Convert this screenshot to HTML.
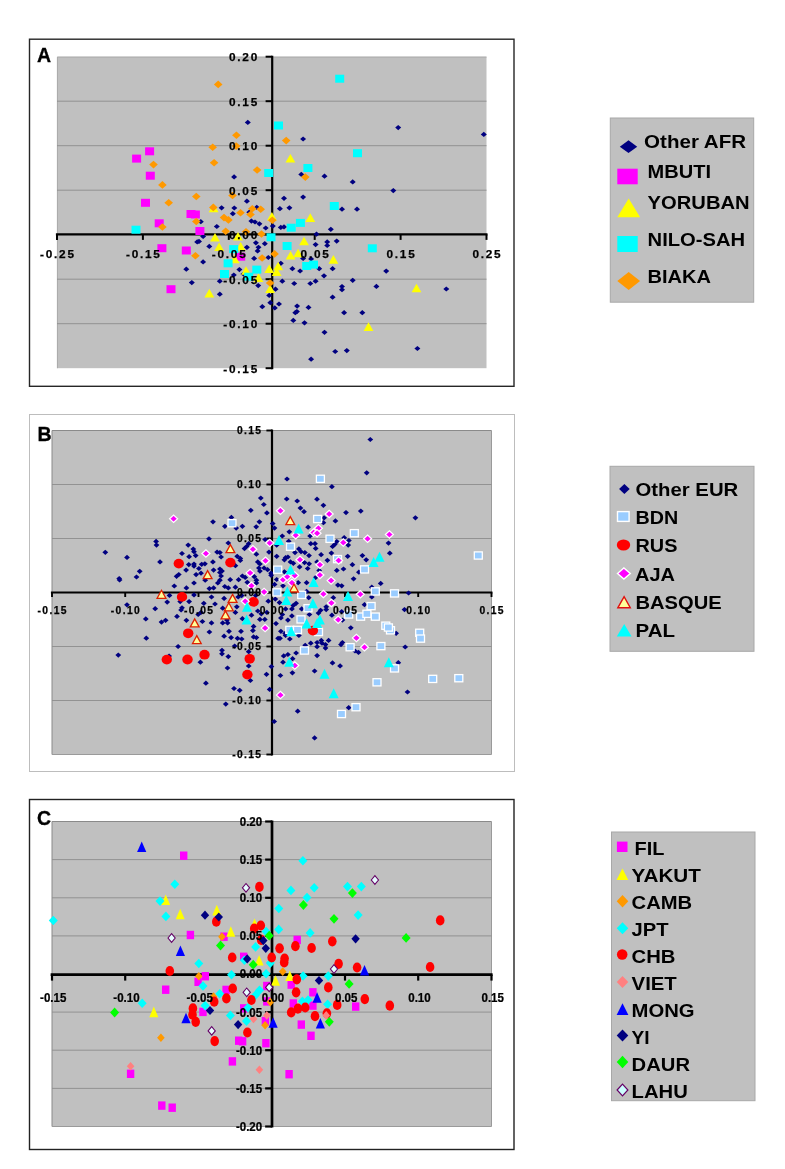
<!DOCTYPE html>
<html><head><meta charset="utf-8"><title>PCA scatter plots</title>
<style>html,body{margin:0;padding:0;background:#fff}svg{display:block;will-change:transform;transform:translateZ(0)}text{font-family:"Liberation Sans",sans-serif;font-weight:bold;fill:#000}</style></head>
<body>
<svg width="785" height="1169" viewBox="0 0 785 1169">
<rect width="785" height="1169" fill="#fff"/>
<rect x="29.5" y="39.2" width="484.5" height="347.1" fill="#fff" stroke="#262626" stroke-width="1.4"/>
<rect x="57" y="56.7" width="429.5" height="311.5" fill="#c0c0c0"/>
<path d="M57.4 368.2V57.1H486.5" fill="none" stroke="#a6a6a6" stroke-width="0.9"/>
<line x1="57" x2="486.5" y1="101.2" y2="101.2" stroke="#8c8c8c" stroke-width="0.9"/>
<line x1="57" x2="486.5" y1="145.7" y2="145.7" stroke="#8c8c8c" stroke-width="0.9"/>
<line x1="57" x2="486.5" y1="190.2" y2="190.2" stroke="#8c8c8c" stroke-width="0.9"/>
<line x1="57" x2="486.5" y1="279.2" y2="279.2" stroke="#8c8c8c" stroke-width="0.9"/>
<line x1="57" x2="486.5" y1="323.7" y2="323.7" stroke="#8c8c8c" stroke-width="0.9"/>
<line x1="55.9" x2="487.5" y1="234.4" y2="234.4" stroke="#000" stroke-width="2.2"/>
<line x1="272.2" x2="272.2" y1="55.7" y2="369.2" stroke="#000" stroke-width="2.2"/>
<line x1="57.0" x2="57.0" y1="234.4" y2="239.9" stroke="#000" stroke-width="2"/>
<line x1="142.9" x2="142.9" y1="234.4" y2="239.9" stroke="#000" stroke-width="2"/>
<line x1="228.8" x2="228.8" y1="234.4" y2="239.9" stroke="#000" stroke-width="2"/>
<line x1="314.7" x2="314.7" y1="234.4" y2="239.9" stroke="#000" stroke-width="2"/>
<line x1="400.6" x2="400.6" y1="234.4" y2="239.9" stroke="#000" stroke-width="2"/>
<line x1="486.5" x2="486.5" y1="234.4" y2="239.9" stroke="#000" stroke-width="2"/>
<line x1="265.59999999999997" x2="272.2" y1="56.7" y2="56.7" stroke="#000" stroke-width="2"/>
<line x1="265.59999999999997" x2="272.2" y1="101.2" y2="101.2" stroke="#000" stroke-width="2"/>
<line x1="265.59999999999997" x2="272.2" y1="145.7" y2="145.7" stroke="#000" stroke-width="2"/>
<line x1="265.59999999999997" x2="272.2" y1="190.2" y2="190.2" stroke="#000" stroke-width="2"/>
<line x1="265.59999999999997" x2="272.2" y1="234.7" y2="234.7" stroke="#000" stroke-width="2"/>
<line x1="265.59999999999997" x2="272.2" y1="279.2" y2="279.2" stroke="#000" stroke-width="2"/>
<line x1="265.59999999999997" x2="272.2" y1="323.7" y2="323.7" stroke="#000" stroke-width="2"/>
<line x1="265.59999999999997" x2="272.2" y1="368.2" y2="368.2" stroke="#000" stroke-width="2"/>
<path d="M231.1 176.9L234.1 174.3L237.1 176.9L234.1 179.5Z" fill="#000080"/>
<path d="M218.6 207.8L221.6 205.2L224.6 207.8L221.6 210.4Z" fill="#000080"/>
<path d="M231.3 208.0L234.3 205.4L237.3 208.0L234.3 210.6Z" fill="#000080"/>
<path d="M229.8 213.7L232.8 211.1L235.8 213.7L232.8 216.3Z" fill="#000080"/>
<path d="M197.8 221.7L200.8 219.1L203.8 221.7L200.8 224.3Z" fill="#000080"/>
<path d="M213.8 226.5L216.8 223.9L219.8 226.5L216.8 229.1Z" fill="#000080"/>
<path d="M200.1 236.4L203.1 233.8L206.1 236.4L203.1 239.0Z" fill="#000080"/>
<path d="M194.2 241.9L197.2 239.3L200.2 241.9L197.2 244.5Z" fill="#000080"/>
<path d="M196.0 241.4L199.0 238.8L202.0 241.4L199.0 244.0Z" fill="#000080"/>
<path d="M206.3 246.4L209.3 243.8L212.3 246.4L209.3 249.0Z" fill="#000080"/>
<path d="M200.1 261.9L203.1 259.3L206.1 261.9L203.1 264.5Z" fill="#000080"/>
<path d="M183.3 269.2L186.3 266.6L189.3 269.2L186.3 271.8Z" fill="#000080"/>
<path d="M188.8 282.6L191.8 280.0L194.8 282.6L191.8 285.2Z" fill="#000080"/>
<path d="M216.8 281.2L219.8 278.6L222.8 281.2L219.8 283.8Z" fill="#000080"/>
<path d="M216.8 294.2L219.8 291.6L222.8 294.2L219.8 296.8Z" fill="#000080"/>
<path d="M230.8 275.0L233.8 272.4L236.8 275.0L233.8 277.6Z" fill="#000080"/>
<path d="M236.4 269.6L239.4 267.0L242.4 269.6L239.4 272.2Z" fill="#000080"/>
<path d="M244.8 122.4L247.8 119.8L250.8 122.4L247.8 125.0Z" fill="#000080"/>
<path d="M300.1 139.0L303.1 136.4L306.1 139.0L303.1 141.6Z" fill="#000080"/>
<path d="M298.3 174.4L301.3 171.8L304.3 174.4L301.3 177.0Z" fill="#000080"/>
<path d="M321.5 176.2L324.5 173.6L327.5 176.2L324.5 178.8Z" fill="#000080"/>
<path d="M349.7 181.9L352.7 179.3L355.7 181.9L352.7 184.5Z" fill="#000080"/>
<path d="M300.1 197.1L303.1 194.5L306.1 197.1L303.1 199.7Z" fill="#000080"/>
<path d="M281.0 198.3L284.0 195.7L287.0 198.3L284.0 200.9Z" fill="#000080"/>
<path d="M243.9 201.2L246.9 198.6L249.9 201.2L246.9 203.8Z" fill="#000080"/>
<path d="M253.8 207.4L256.8 204.8L259.8 207.4L256.8 210.0Z" fill="#000080"/>
<path d="M276.9 208.7L279.9 206.1L282.9 208.7L279.9 211.3Z" fill="#000080"/>
<path d="M286.4 207.8L289.4 205.2L292.4 207.8L289.4 210.4Z" fill="#000080"/>
<path d="M339.0 209.2L342.0 206.6L345.0 209.2L342.0 211.8Z" fill="#000080"/>
<path d="M354.0 209.2L357.0 206.6L360.0 209.2L357.0 211.8Z" fill="#000080"/>
<path d="M246.3 212.2L249.3 209.6L252.3 212.2L249.3 214.8Z" fill="#000080"/>
<path d="M248.4 221.1L251.4 218.5L254.4 221.1L251.4 223.7Z" fill="#000080"/>
<path d="M252.0 222.0L255.0 219.4L258.0 222.0L255.0 224.6Z" fill="#000080"/>
<path d="M256.4 223.8L259.4 221.2L262.4 223.8L259.4 226.4Z" fill="#000080"/>
<path d="M262.7 228.0L265.7 225.4L268.7 228.0L265.7 230.6Z" fill="#000080"/>
<path d="M269.8 226.1L272.8 223.5L275.8 226.1L272.8 228.7Z" fill="#000080"/>
<path d="M277.8 227.4L280.8 224.8L283.8 227.4L280.8 230.0Z" fill="#000080"/>
<path d="M281.0 226.9L284.0 224.3L287.0 226.9L284.0 229.5Z" fill="#000080"/>
<path d="M327.8 229.3L330.8 226.7L333.8 229.3L330.8 231.9Z" fill="#000080"/>
<path d="M313.5 234.2L316.5 231.6L319.5 234.2L316.5 236.8Z" fill="#000080"/>
<path d="M324.2 241.9L327.2 239.3L330.2 241.9L327.2 244.5Z" fill="#000080"/>
<path d="M333.7 241.1L336.7 238.5L339.7 241.1L336.7 243.7Z" fill="#000080"/>
<path d="M312.6 244.6L315.6 242.0L318.6 244.6L315.6 247.2Z" fill="#000080"/>
<path d="M324.2 245.5L327.2 242.9L330.2 245.5L327.2 248.1Z" fill="#000080"/>
<path d="M252.9 242.8L255.9 240.2L258.9 242.8L255.9 245.4Z" fill="#000080"/>
<path d="M261.8 243.7L264.8 241.1L267.8 243.7L264.8 246.3Z" fill="#000080"/>
<path d="M243.9 247.3L246.9 244.7L249.9 247.3L246.9 249.9Z" fill="#000080"/>
<path d="M255.5 247.3L258.5 244.7L261.5 247.3L258.5 249.9Z" fill="#000080"/>
<path d="M254.6 250.9L257.6 248.3L260.6 250.9L257.6 253.5Z" fill="#000080"/>
<path d="M251.1 258.4L254.1 255.8L257.1 258.4L254.1 261.0Z" fill="#000080"/>
<path d="M265.3 257.5L268.3 254.9L271.3 257.5L268.3 260.1Z" fill="#000080"/>
<path d="M300.1 258.4L303.1 255.8L306.1 258.4L303.1 261.0Z" fill="#000080"/>
<path d="M308.1 258.9L311.1 256.3L314.1 258.9L311.1 261.5Z" fill="#000080"/>
<path d="M277.8 263.3L280.8 260.7L283.8 263.3L280.8 265.9Z" fill="#000080"/>
<path d="M289.4 268.7L292.4 266.1L295.4 268.7L292.4 271.3Z" fill="#000080"/>
<path d="M297.1 271.0L300.1 268.4L303.1 271.0L300.1 273.6Z" fill="#000080"/>
<path d="M316.2 268.7L319.2 266.1L322.2 268.7L319.2 271.3Z" fill="#000080"/>
<path d="M329.6 268.7L332.6 266.1L335.6 268.7L332.6 271.3Z" fill="#000080"/>
<path d="M321.0 275.8L324.0 273.2L327.0 275.8L324.0 278.4Z" fill="#000080"/>
<path d="M240.4 274.0L243.4 271.4L246.4 274.0L243.4 276.6Z" fill="#000080"/>
<path d="M279.3 281.2L282.3 278.6L285.3 281.2L282.3 283.8Z" fill="#000080"/>
<path d="M291.2 283.5L294.2 280.9L297.2 283.5L294.2 286.1Z" fill="#000080"/>
<path d="M307.3 283.5L310.3 280.9L313.3 283.5L310.3 286.1Z" fill="#000080"/>
<path d="M312.6 281.2L315.6 278.6L318.6 281.2L315.6 283.8Z" fill="#000080"/>
<path d="M349.7 280.3L352.7 277.7L355.7 280.3L352.7 282.9Z" fill="#000080"/>
<path d="M255.2 285.6L258.2 283.0L261.2 285.6L258.2 288.2Z" fill="#000080"/>
<path d="M272.5 289.2L275.5 286.6L278.5 289.2L275.5 291.8Z" fill="#000080"/>
<path d="M339.0 286.5L342.0 283.9L345.0 286.5L342.0 289.1Z" fill="#000080"/>
<path d="M339.0 289.7L342.0 287.1L345.0 289.7L342.0 292.3Z" fill="#000080"/>
<path d="M266.2 295.4L269.2 292.8L272.2 295.4L269.2 298.0Z" fill="#000080"/>
<path d="M267.3 302.7L270.3 300.1L273.3 302.7L270.3 305.3Z" fill="#000080"/>
<path d="M329.6 297.2L332.6 294.6L335.6 297.2L332.6 299.8Z" fill="#000080"/>
<path d="M276.0 304.0L279.0 301.4L282.0 304.0L279.0 306.6Z" fill="#000080"/>
<path d="M259.3 306.7L262.3 304.1L265.3 306.7L262.3 309.3Z" fill="#000080"/>
<path d="M271.8 307.9L274.8 305.3L277.8 307.9L274.8 310.5Z" fill="#000080"/>
<path d="M294.1 306.1L297.1 303.5L300.1 306.1L297.1 308.7Z" fill="#000080"/>
<path d="M305.5 307.4L308.5 304.8L311.5 307.4L308.5 310.0Z" fill="#000080"/>
<path d="M293.9 311.6L296.9 309.0L299.9 311.6L296.9 314.2Z" fill="#000080"/>
<path d="M292.3 312.7L295.3 310.1L298.3 312.7L295.3 315.3Z" fill="#000080"/>
<path d="M341.1 312.7L344.1 310.1L347.1 312.7L344.1 315.3Z" fill="#000080"/>
<path d="M359.3 312.7L362.3 310.1L365.3 312.7L362.3 315.3Z" fill="#000080"/>
<path d="M290.3 320.4L293.3 317.8L296.3 320.4L293.3 323.0Z" fill="#000080"/>
<path d="M301.5 322.8L304.5 320.2L307.5 322.8L304.5 325.4Z" fill="#000080"/>
<path d="M321.5 332.3L324.5 329.7L327.5 332.3L324.5 334.9Z" fill="#000080"/>
<path d="M332.2 351.5L335.2 348.9L338.2 351.5L335.2 354.1Z" fill="#000080"/>
<path d="M343.8 350.6L346.8 348.0L349.8 350.6L346.8 353.2Z" fill="#000080"/>
<path d="M308.1 359.2L311.1 356.6L314.1 359.2L311.1 361.8Z" fill="#000080"/>
<path d="M395.2 127.6L398.2 125.0L401.2 127.6L398.2 130.2Z" fill="#000080"/>
<path d="M480.8 134.4L483.8 131.8L486.8 134.4L483.8 137.0Z" fill="#000080"/>
<path d="M390.3 190.6L393.3 188.0L396.3 190.6L393.3 193.2Z" fill="#000080"/>
<path d="M383.2 271.1L386.2 268.5L389.2 271.1L386.2 273.7Z" fill="#000080"/>
<path d="M373.4 286.4L376.4 283.8L379.4 286.4L376.4 289.0Z" fill="#000080"/>
<path d="M443.3 289.0L446.3 286.4L449.3 289.0L446.3 291.6Z" fill="#000080"/>
<path d="M414.4 348.5L417.4 345.9L420.4 348.5L417.4 351.1Z" fill="#000080"/>
<rect x="145.1" y="147.3" width="9.0" height="8.0" fill="#ff00ff"/>
<rect x="132.1" y="154.6" width="9.0" height="8.0" fill="#ff00ff"/>
<rect x="145.8" y="171.7" width="9.0" height="8.0" fill="#ff00ff"/>
<rect x="141.0" y="198.8" width="9.0" height="8.0" fill="#ff00ff"/>
<rect x="186.5" y="210.0" width="9.0" height="8.0" fill="#ff00ff"/>
<rect x="190.9" y="210.5" width="9.0" height="8.0" fill="#ff00ff"/>
<rect x="154.7" y="219.3" width="9.0" height="8.0" fill="#ff00ff"/>
<rect x="195.4" y="227.0" width="9.0" height="8.0" fill="#ff00ff"/>
<rect x="157.4" y="244.2" width="9.0" height="8.0" fill="#ff00ff"/>
<rect x="181.8" y="246.5" width="9.0" height="8.0" fill="#ff00ff"/>
<rect x="166.5" y="285.2" width="9.0" height="8.0" fill="#ff00ff"/>
<rect x="236.2" y="252.7" width="9.0" height="8.0" fill="#ff00ff"/>
<path d="M208.7 212.2L213.6 203.6L218.5 212.2Z" fill="#ffff00"/>
<path d="M210.1 241.6L215.0 233.0L219.9 241.6Z" fill="#ffff00"/>
<path d="M214.2 251.1L219.1 242.5L224.0 251.1Z" fill="#ffff00"/>
<path d="M204.4 297.4L209.3 288.8L214.2 297.4Z" fill="#ffff00"/>
<path d="M229.8 263.2L234.7 254.6L239.6 263.2Z" fill="#ffff00"/>
<path d="M285.5 162.5L290.4 153.9L295.3 162.5Z" fill="#ffff00"/>
<path d="M305.4 221.9L310.3 213.3L315.2 221.9Z" fill="#ffff00"/>
<path d="M267.0 220.6L271.9 212.0L276.8 220.6Z" fill="#ffff00"/>
<path d="M233.1 240.6L238.0 232.0L242.9 240.6Z" fill="#ffff00"/>
<path d="M299.1 245.3L304.0 236.7L308.9 245.3Z" fill="#ffff00"/>
<path d="M285.7 259.6L290.6 251.0L295.5 259.6Z" fill="#ffff00"/>
<path d="M293.2 257.3L298.1 248.7L303.0 257.3Z" fill="#ffff00"/>
<path d="M328.5 263.7L333.4 255.1L338.3 263.7Z" fill="#ffff00"/>
<path d="M273.3 270.3L278.2 261.7L283.1 270.3Z" fill="#ffff00"/>
<path d="M264.3 273.0L269.2 264.4L274.1 273.0Z" fill="#ffff00"/>
<path d="M271.8 276.0L276.7 267.4L281.6 276.0Z" fill="#ffff00"/>
<path d="M241.1 274.8L246.0 266.2L250.9 274.8Z" fill="#ffff00"/>
<path d="M253.6 281.9L258.5 273.3L263.4 281.9Z" fill="#ffff00"/>
<path d="M265.2 293.0L270.1 284.4L275.0 293.0Z" fill="#ffff00"/>
<path d="M235.8 250.7L240.7 242.1L245.6 250.7Z" fill="#ffff00"/>
<path d="M363.6 330.9L368.5 322.3L373.4 330.9Z" fill="#ffff00"/>
<path d="M411.6 292.3L416.5 283.7L421.4 292.3Z" fill="#ffff00"/>
<rect x="131.5" y="225.7" width="9.0" height="8.0" fill="#00ffff"/>
<rect x="223.6" y="259.3" width="9.0" height="8.0" fill="#00ffff"/>
<rect x="220.0" y="270.0" width="9.0" height="8.0" fill="#00ffff"/>
<rect x="229.2" y="245.1" width="9.0" height="8.0" fill="#00ffff"/>
<rect x="335.2" y="74.7" width="9.0" height="8.0" fill="#00ffff"/>
<rect x="274.0" y="121.5" width="9.0" height="8.0" fill="#00ffff"/>
<rect x="353.0" y="149.2" width="9.0" height="8.0" fill="#00ffff"/>
<rect x="303.4" y="164.0" width="9.0" height="8.0" fill="#00ffff"/>
<rect x="264.2" y="169.0" width="9.0" height="8.0" fill="#00ffff"/>
<rect x="329.8" y="202.0" width="9.0" height="8.0" fill="#00ffff"/>
<rect x="295.9" y="218.9" width="9.0" height="8.0" fill="#00ffff"/>
<rect x="286.7" y="223.7" width="9.0" height="8.0" fill="#00ffff"/>
<rect x="266.5" y="233.3" width="9.0" height="8.0" fill="#00ffff"/>
<rect x="282.6" y="242.0" width="9.0" height="8.0" fill="#00ffff"/>
<rect x="302.2" y="262.0" width="9.0" height="8.0" fill="#00ffff"/>
<rect x="309.0" y="260.6" width="9.0" height="8.0" fill="#00ffff"/>
<rect x="252.3" y="265.6" width="9.0" height="8.0" fill="#00ffff"/>
<rect x="367.8" y="244.3" width="9.0" height="8.0" fill="#00ffff"/>
<rect x="244.2" y="272.7" width="9.0" height="8.0" fill="#00ffff"/>
<path d="M213.9 84.4L218.2 80.6L222.5 84.4L218.2 88.2Z" fill="#ff9900"/>
<path d="M232.1 135.3L236.4 131.5L240.7 135.3L236.4 139.1Z" fill="#ff9900"/>
<path d="M208.4 147.3L212.7 143.5L217.0 147.3L212.7 151.1Z" fill="#ff9900"/>
<path d="M149.2 164.6L153.5 160.8L157.8 164.6L153.5 168.4Z" fill="#ff9900"/>
<path d="M209.8 162.8L214.1 159.0L218.4 162.8L214.1 166.6Z" fill="#ff9900"/>
<path d="M158.1 184.9L162.4 181.1L166.7 184.9L162.4 188.7Z" fill="#ff9900"/>
<path d="M192.0 196.5L196.3 192.7L200.6 196.5L196.3 200.3Z" fill="#ff9900"/>
<path d="M164.4 202.8L168.7 199.0L173.0 202.8L168.7 206.6Z" fill="#ff9900"/>
<path d="M228.2 195.5L232.5 191.7L236.8 195.5L232.5 199.3Z" fill="#ff9900"/>
<path d="M209.0 207.4L213.3 203.6L217.6 207.4L213.3 211.2Z" fill="#ff9900"/>
<path d="M192.0 221.5L196.3 217.7L200.6 221.5L196.3 225.3Z" fill="#ff9900"/>
<path d="M158.1 227.0L162.4 223.2L166.7 227.0L162.4 230.8Z" fill="#ff9900"/>
<path d="M219.7 217.6L224.0 213.8L228.3 217.6L224.0 221.4Z" fill="#ff9900"/>
<path d="M224.1 219.9L228.4 216.1L232.7 219.9L228.4 223.7Z" fill="#ff9900"/>
<path d="M221.4 231.3L225.7 227.5L230.0 231.3L225.7 235.1Z" fill="#ff9900"/>
<path d="M236.2 212.7L240.5 208.9L244.8 212.7L240.5 216.5Z" fill="#ff9900"/>
<path d="M191.1 255.7L195.4 251.9L199.7 255.7L195.4 259.5Z" fill="#ff9900"/>
<path d="M281.9 140.6L286.2 136.8L290.5 140.6L286.2 144.4Z" fill="#ff9900"/>
<path d="M231.9 146.1L236.2 142.3L240.5 146.1L236.2 149.9Z" fill="#ff9900"/>
<path d="M252.8 170.0L257.1 166.2L261.4 170.0L257.1 173.8Z" fill="#ff9900"/>
<path d="M301.0 177.1L305.3 173.3L309.6 177.1L305.3 180.9Z" fill="#ff9900"/>
<path d="M248.0 208.7L252.3 204.9L256.6 208.7L252.3 212.5Z" fill="#ff9900"/>
<path d="M256.4 209.2L260.7 205.4L265.0 209.2L260.7 213.0Z" fill="#ff9900"/>
<path d="M246.2 214.5L250.5 210.7L254.8 214.5L250.5 218.3Z" fill="#ff9900"/>
<path d="M268.0 220.3L272.3 216.5L276.6 220.3L272.3 224.1Z" fill="#ff9900"/>
<path d="M257.2 234.0L261.5 230.2L265.8 234.0L261.5 237.8Z" fill="#ff9900"/>
<path d="M241.7 231.8L246.0 228.0L250.3 231.8L246.0 235.6Z" fill="#ff9900"/>
<path d="M270.3 253.9L274.6 250.1L278.9 253.9L274.6 257.7Z" fill="#ff9900"/>
<path d="M257.8 258.0L262.1 254.2L266.4 258.0L262.1 261.8Z" fill="#ff9900"/>
<path d="M265.8 283.0L270.1 279.2L274.4 283.0L270.1 286.8Z" fill="#ff9900"/>
<text transform="translate(40.05,257.80) scale(1.0,1)" font-size="11.8" letter-spacing="1.75" stroke="#000" stroke-width="0.25" font-family="Liberation Sans, sans-serif" font-weight="bold">-0.25</text>
<text transform="translate(125.95,257.80) scale(1.0,1)" font-size="11.8" letter-spacing="1.75" stroke="#000" stroke-width="0.25" font-family="Liberation Sans, sans-serif" font-weight="bold">-0.15</text>
<text transform="translate(211.85,257.80) scale(1.0,1)" font-size="11.8" letter-spacing="1.75" stroke="#000" stroke-width="0.25" font-family="Liberation Sans, sans-serif" font-weight="bold">-0.05</text>
<text transform="translate(300.59,257.80) scale(1.0,1)" font-size="11.8" letter-spacing="1.75" stroke="#000" stroke-width="0.25" font-family="Liberation Sans, sans-serif" font-weight="bold">0.05</text>
<text transform="translate(386.49,257.80) scale(1.0,1)" font-size="11.8" letter-spacing="1.75" stroke="#000" stroke-width="0.25" font-family="Liberation Sans, sans-serif" font-weight="bold">0.15</text>
<text transform="translate(472.39,257.80) scale(1.0,1)" font-size="11.8" letter-spacing="1.75" stroke="#000" stroke-width="0.25" font-family="Liberation Sans, sans-serif" font-weight="bold">0.25</text>
<text transform="translate(228.99,61.00) scale(1.0,1)" font-size="11.8" letter-spacing="1.75" stroke="#000" stroke-width="0.25" font-family="Liberation Sans, sans-serif" font-weight="bold">0.20</text>
<text transform="translate(228.99,105.50) scale(1.0,1)" font-size="11.8" letter-spacing="1.75" stroke="#000" stroke-width="0.25" font-family="Liberation Sans, sans-serif" font-weight="bold">0.15</text>
<text transform="translate(228.99,150.00) scale(1.0,1)" font-size="11.8" letter-spacing="1.75" stroke="#000" stroke-width="0.25" font-family="Liberation Sans, sans-serif" font-weight="bold">0.10</text>
<text transform="translate(228.99,194.50) scale(1.0,1)" font-size="11.8" letter-spacing="1.75" stroke="#000" stroke-width="0.25" font-family="Liberation Sans, sans-serif" font-weight="bold">0.05</text>
<text transform="translate(228.99,239.00) scale(1.0,1)" font-size="11.8" letter-spacing="1.75" stroke="#000" stroke-width="0.25" font-family="Liberation Sans, sans-serif" font-weight="bold">0.00</text>
<text transform="translate(223.31,283.50) scale(1.0,1)" font-size="11.8" letter-spacing="1.75" stroke="#000" stroke-width="0.25" font-family="Liberation Sans, sans-serif" font-weight="bold">-0.05</text>
<text transform="translate(223.31,328.00) scale(1.0,1)" font-size="11.8" letter-spacing="1.75" stroke="#000" stroke-width="0.25" font-family="Liberation Sans, sans-serif" font-weight="bold">-0.10</text>
<text transform="translate(223.31,372.50) scale(1.0,1)" font-size="11.8" letter-spacing="1.75" stroke="#000" stroke-width="0.25" font-family="Liberation Sans, sans-serif" font-weight="bold">-0.15</text>
<text x="37.0" y="61.6" font-size="19.5" text-anchor="start" font-family="Liberation Sans, sans-serif" font-weight="bold" stroke="#000" stroke-width="0.3">A</text>
<rect x="29.5" y="414.5" width="485.0" height="357.0" fill="#fff" stroke="#bdbdbd" stroke-width="1"/>
<rect x="52" y="430.5" width="439.5" height="324.0" fill="#c0c0c0"/>
<path d="M52 754.5V430.5H491.5" fill="none" stroke="#8a8a8a" stroke-width="1"/>
<path d="M52 754.5H491.5V430.5" fill="none" stroke="#9a9a9a" stroke-width="1"/>
<line x1="52" x2="491.5" y1="484.5" y2="484.5" stroke="#8c8c8c" stroke-width="0.9"/>
<line x1="52" x2="491.5" y1="538.5" y2="538.5" stroke="#8c8c8c" stroke-width="0.9"/>
<line x1="52" x2="491.5" y1="646.5" y2="646.5" stroke="#8c8c8c" stroke-width="0.9"/>
<line x1="52" x2="491.5" y1="700.5" y2="700.5" stroke="#8c8c8c" stroke-width="0.9"/>
<line x1="50.9" x2="492.45" y1="592.5" y2="592.5" stroke="#000" stroke-width="2.2"/>
<line x1="272" x2="272" y1="429.55" y2="755.45" stroke="#000" stroke-width="2.2"/>
<line x1="52.0" x2="52.0" y1="592.5" y2="597.0" stroke="#000" stroke-width="1.9"/>
<line x1="125.2" x2="125.2" y1="592.5" y2="597.0" stroke="#000" stroke-width="1.9"/>
<line x1="198.5" x2="198.5" y1="592.5" y2="597.0" stroke="#000" stroke-width="1.9"/>
<line x1="345.0" x2="345.0" y1="592.5" y2="597.0" stroke="#000" stroke-width="1.9"/>
<line x1="418.2" x2="418.2" y1="592.5" y2="597.0" stroke="#000" stroke-width="1.9"/>
<line x1="491.5" x2="491.5" y1="592.5" y2="597.0" stroke="#000" stroke-width="1.9"/>
<line x1="266.4" x2="272" y1="430.5" y2="430.5" stroke="#000" stroke-width="1.9"/>
<line x1="266.4" x2="272" y1="484.5" y2="484.5" stroke="#000" stroke-width="1.9"/>
<line x1="266.4" x2="272" y1="538.5" y2="538.5" stroke="#000" stroke-width="1.9"/>
<line x1="266.4" x2="272" y1="592.5" y2="592.5" stroke="#000" stroke-width="1.9"/>
<line x1="266.4" x2="272" y1="646.5" y2="646.5" stroke="#000" stroke-width="1.9"/>
<line x1="266.4" x2="272" y1="700.5" y2="700.5" stroke="#000" stroke-width="1.9"/>
<line x1="266.4" x2="272" y1="754.5" y2="754.5" stroke="#000" stroke-width="1.9"/>
<path d="M153.2 541.4L156.1 538.8L159.0 541.4L156.1 544.0Z" fill="#000080"/>
<path d="M153.6 545.1L156.5 542.5L159.4 545.1L156.5 547.7Z" fill="#000080"/>
<path d="M102.4 552.3L105.3 549.7L108.2 552.3L105.3 554.9Z" fill="#000080"/>
<path d="M124.1 557.4L127.0 554.8L129.9 557.4L127.0 560.0Z" fill="#000080"/>
<path d="M157.1 561.9L160.0 559.3L162.9 561.9L160.0 564.5Z" fill="#000080"/>
<path d="M179.1 553.5L182.0 550.9L184.9 553.5L182.0 556.1Z" fill="#000080"/>
<path d="M185.3 545.1L188.2 542.5L191.1 545.1L188.2 547.7Z" fill="#000080"/>
<path d="M186.2 556.7L189.1 554.1L192.0 556.7L189.1 559.3Z" fill="#000080"/>
<path d="M185.9 564.6L188.8 562.0L191.7 564.6L188.8 567.2Z" fill="#000080"/>
<path d="M183.2 570.1L186.1 567.5L189.0 570.1L186.1 572.7Z" fill="#000080"/>
<path d="M136.8 571.3L139.7 568.7L142.6 571.3L139.7 573.9Z" fill="#000080"/>
<path d="M133.6 577.0L136.5 574.4L139.4 577.0L136.5 579.6Z" fill="#000080"/>
<path d="M116.3 578.5L119.2 575.9L122.1 578.5L119.2 581.1Z" fill="#000080"/>
<path d="M116.7 580.0L119.6 577.4L122.5 580.0L119.6 582.6Z" fill="#000080"/>
<path d="M173.7 576.3L176.6 573.7L179.5 576.3L176.6 578.9Z" fill="#000080"/>
<path d="M175.9 574.5L178.8 571.9L181.7 574.5L178.8 577.1Z" fill="#000080"/>
<path d="M171.4 586.0L174.3 583.4L177.2 586.0L174.3 588.6Z" fill="#000080"/>
<path d="M183.5 587.9L186.4 585.3L189.3 587.9L186.4 590.5Z" fill="#000080"/>
<path d="M166.6 595.4L169.5 592.8L172.4 595.4L169.5 598.0Z" fill="#000080"/>
<path d="M124.1 604.8L127.0 602.2L129.9 604.8L127.0 607.4Z" fill="#000080"/>
<path d="M164.3 602.1L167.2 599.5L170.1 602.1L167.2 604.7Z" fill="#000080"/>
<path d="M152.3 608.7L155.2 606.1L158.1 608.7L155.2 611.3Z" fill="#000080"/>
<path d="M179.1 607.8L182.0 605.2L184.9 607.8L182.0 610.4Z" fill="#000080"/>
<path d="M178.2 610.0L181.1 607.4L184.0 610.0L181.1 612.6Z" fill="#000080"/>
<path d="M177.3 601.6L180.2 599.0L183.1 601.6L180.2 604.2Z" fill="#000080"/>
<path d="M186.2 601.6L189.1 599.0L192.0 601.6L189.1 604.2Z" fill="#000080"/>
<path d="M142.9 618.9L145.8 616.3L148.7 618.9L145.8 621.5Z" fill="#000080"/>
<path d="M174.1 616.4L177.0 613.8L179.9 616.4L177.0 619.0Z" fill="#000080"/>
<path d="M183.5 620.3L186.4 617.7L189.3 620.3L186.4 622.9Z" fill="#000080"/>
<path d="M158.6 622.1L161.5 619.5L164.4 622.1L161.5 624.7Z" fill="#000080"/>
<path d="M162.7 620.3L165.6 617.7L168.5 620.3L165.6 622.9Z" fill="#000080"/>
<path d="M143.4 638.2L146.3 635.6L149.2 638.2L146.3 640.8Z" fill="#000080"/>
<path d="M175.2 646.5L178.1 643.9L181.0 646.5L178.1 649.1Z" fill="#000080"/>
<path d="M115.4 655.1L118.3 652.5L121.2 655.1L118.3 657.7Z" fill="#000080"/>
<path d="M166.2 656.0L169.1 653.4L172.0 656.0L169.1 658.6Z" fill="#000080"/>
<path d="M284.1 479.0L287.0 476.4L289.9 479.0L287.0 481.6Z" fill="#000080"/>
<path d="M257.9 498.1L260.8 495.5L263.7 498.1L260.8 500.7Z" fill="#000080"/>
<path d="M260.9 504.5L263.8 501.9L266.7 504.5L263.8 507.1Z" fill="#000080"/>
<path d="M283.8 499.0L286.7 496.4L289.6 499.0L286.7 501.6Z" fill="#000080"/>
<path d="M294.3 501.0L297.2 498.4L300.1 501.0L297.2 503.6Z" fill="#000080"/>
<path d="M314.1 499.2L317.0 496.6L319.9 499.2L317.0 501.8Z" fill="#000080"/>
<path d="M247.9 510.3L250.8 507.7L253.7 510.3L250.8 512.9Z" fill="#000080"/>
<path d="M264.0 512.9L266.9 510.3L269.8 512.9L266.9 515.5Z" fill="#000080"/>
<path d="M297.5 508.1L300.4 505.5L303.3 508.1L300.4 510.7Z" fill="#000080"/>
<path d="M301.1 511.7L304.0 509.1L306.9 511.7L304.0 514.3Z" fill="#000080"/>
<path d="M228.5 517.4L231.4 514.8L234.3 517.4L231.4 520.0Z" fill="#000080"/>
<path d="M210.1 521.8L213.0 519.2L215.9 521.8L213.0 524.4Z" fill="#000080"/>
<path d="M256.5 521.8L259.4 519.2L262.3 521.8L259.4 524.4Z" fill="#000080"/>
<path d="M269.8 523.6L272.7 521.0L275.6 523.6L272.7 526.2Z" fill="#000080"/>
<path d="M222.0 526.3L224.9 523.7L227.8 526.3L224.9 528.9Z" fill="#000080"/>
<path d="M239.5 526.3L242.4 523.7L245.3 526.3L242.4 528.9Z" fill="#000080"/>
<path d="M253.3 526.8L256.2 524.2L259.1 526.8L256.2 529.4Z" fill="#000080"/>
<path d="M233.3 528.1L236.2 525.5L239.1 528.1L236.2 530.7Z" fill="#000080"/>
<path d="M305.2 527.2L308.1 524.6L311.0 527.2L308.1 529.8Z" fill="#000080"/>
<path d="M271.6 528.1L274.5 525.5L277.4 528.1L274.5 530.7Z" fill="#000080"/>
<path d="M286.4 531.8L289.3 529.2L292.2 531.8L289.3 534.4Z" fill="#000080"/>
<path d="M206.1 538.8L209.0 536.2L211.9 538.8L209.0 541.4Z" fill="#000080"/>
<path d="M279.4 536.0L282.3 533.4L285.2 536.0L282.3 538.6Z" fill="#000080"/>
<path d="M225.4 543.0L228.3 540.4L231.2 543.0L228.3 545.6Z" fill="#000080"/>
<path d="M190.4 549.1L193.3 546.5L196.2 549.1L193.3 551.7Z" fill="#000080"/>
<path d="M191.1 551.7L194.0 549.1L196.9 551.7L194.0 554.3Z" fill="#000080"/>
<path d="M192.8 555.6L195.7 553.0L198.6 555.6L195.7 558.2Z" fill="#000080"/>
<path d="M214.2 552.1L217.1 549.5L220.0 552.1L217.1 554.7Z" fill="#000080"/>
<path d="M217.0 552.6L219.9 550.0L222.8 552.6L219.9 555.2Z" fill="#000080"/>
<path d="M218.2 557.0L221.1 554.4L224.0 557.0L221.1 559.6Z" fill="#000080"/>
<path d="M234.3 556.3L237.2 553.7L240.1 556.3L237.2 558.9Z" fill="#000080"/>
<path d="M237.4 558.4L240.3 555.8L243.2 558.4L240.3 561.0Z" fill="#000080"/>
<path d="M237.4 560.5L240.3 557.9L243.2 560.5L240.3 563.1Z" fill="#000080"/>
<path d="M241.6 548.6L244.5 546.0L247.4 548.6L244.5 551.2Z" fill="#000080"/>
<path d="M243.7 546.5L246.6 543.9L249.5 546.5L246.6 549.1Z" fill="#000080"/>
<path d="M245.8 543.7L248.7 541.1L251.6 543.7L248.7 546.3Z" fill="#000080"/>
<path d="M253.5 554.2L256.4 551.6L259.3 554.2L256.4 556.8Z" fill="#000080"/>
<path d="M262.2 539.5L265.1 536.9L268.0 539.5L265.1 542.1Z" fill="#000080"/>
<path d="M266.1 552.1L269.0 549.5L271.9 552.1L269.0 554.7Z" fill="#000080"/>
<path d="M273.8 545.1L276.7 542.5L279.6 545.1L276.7 547.7Z" fill="#000080"/>
<path d="M273.8 556.3L276.7 553.7L279.6 556.3L276.7 558.9Z" fill="#000080"/>
<path d="M281.5 559.8L284.4 557.2L287.3 559.8L284.4 562.4Z" fill="#000080"/>
<path d="M285.0 557.0L287.9 554.4L290.8 557.0L287.9 559.6Z" fill="#000080"/>
<path d="M210.0 561.9L212.9 559.3L215.8 561.9L212.9 564.5Z" fill="#000080"/>
<path d="M191.1 564.0L194.0 561.4L196.9 564.0L194.0 566.6Z" fill="#000080"/>
<path d="M191.1 566.1L194.0 563.5L196.9 566.1L194.0 568.7Z" fill="#000080"/>
<path d="M198.8 564.3L201.7 561.7L204.6 564.3L201.7 566.9Z" fill="#000080"/>
<path d="M202.0 563.8L204.9 561.2L207.8 563.8L204.9 566.4Z" fill="#000080"/>
<path d="M196.0 568.5L198.9 565.9L201.8 568.5L198.9 571.1Z" fill="#000080"/>
<path d="M217.0 569.0L219.9 566.4L222.8 569.0L219.9 571.6Z" fill="#000080"/>
<path d="M219.1 571.1L222.0 568.5L224.9 571.1L222.0 573.7Z" fill="#000080"/>
<path d="M217.0 572.5L219.9 569.9L222.8 572.5L219.9 575.1Z" fill="#000080"/>
<path d="M210.7 570.1L213.6 567.5L216.5 570.1L213.6 572.7Z" fill="#000080"/>
<path d="M232.5 565.7L235.4 563.1L238.3 565.7L235.4 568.3Z" fill="#000080"/>
<path d="M254.9 561.9L257.8 559.3L260.7 561.9L257.8 564.5Z" fill="#000080"/>
<path d="M256.0 568.0L258.9 565.4L261.8 568.0L258.9 570.6Z" fill="#000080"/>
<path d="M257.0 571.1L259.9 568.5L262.8 571.1L259.9 573.7Z" fill="#000080"/>
<path d="M261.2 568.0L264.1 565.4L267.0 568.0L264.1 570.6Z" fill="#000080"/>
<path d="M264.7 569.7L267.6 567.1L270.5 569.7L267.6 572.3Z" fill="#000080"/>
<path d="M268.2 573.2L271.1 570.6L274.0 573.2L271.1 575.8Z" fill="#000080"/>
<path d="M281.5 571.8L284.4 569.2L287.3 571.8L284.4 574.4Z" fill="#000080"/>
<path d="M193.2 574.6L196.1 572.0L199.0 574.6L196.1 577.2Z" fill="#000080"/>
<path d="M198.1 573.2L201.0 570.6L203.9 573.2L201.0 575.8Z" fill="#000080"/>
<path d="M218.2 576.0L221.1 573.4L224.0 576.0L221.1 578.6Z" fill="#000080"/>
<path d="M202.3 580.2L205.2 577.6L208.1 580.2L205.2 582.8Z" fill="#000080"/>
<path d="M191.1 583.0L194.0 580.4L196.9 583.0L194.0 585.6Z" fill="#000080"/>
<path d="M217.0 580.2L219.9 577.6L222.8 580.2L219.9 582.8Z" fill="#000080"/>
<path d="M214.9 583.0L217.8 580.4L220.7 583.0L217.8 585.6Z" fill="#000080"/>
<path d="M227.3 579.7L230.2 577.1L233.1 579.7L230.2 582.3Z" fill="#000080"/>
<path d="M235.7 579.7L238.6 577.1L241.5 579.7L238.6 582.3Z" fill="#000080"/>
<path d="M239.5 576.0L242.4 573.4L245.3 576.0L242.4 578.6Z" fill="#000080"/>
<path d="M242.3 577.4L245.2 574.8L248.1 577.4L245.2 580.0Z" fill="#000080"/>
<path d="M251.4 576.7L254.3 574.1L257.2 576.7L254.3 579.3Z" fill="#000080"/>
<path d="M253.5 580.2L256.4 577.6L259.3 580.2L256.4 582.8Z" fill="#000080"/>
<path d="M253.5 583.0L256.4 580.4L259.3 583.0L256.4 585.6Z" fill="#000080"/>
<path d="M221.9 586.5L224.8 583.9L227.7 586.5L224.8 589.1Z" fill="#000080"/>
<path d="M225.4 587.9L228.3 585.3L231.2 587.9L228.3 590.5Z" fill="#000080"/>
<path d="M210.7 587.9L213.6 585.3L216.5 587.9L213.6 590.5Z" fill="#000080"/>
<path d="M206.5 588.6L209.4 586.0L212.3 588.6L209.4 591.2Z" fill="#000080"/>
<path d="M232.5 587.2L235.4 584.6L238.3 587.2L235.4 589.8Z" fill="#000080"/>
<path d="M244.4 582.3L247.3 579.7L250.2 582.3L247.3 584.9Z" fill="#000080"/>
<path d="M273.8 579.5L276.7 576.9L279.6 579.5L276.7 582.1Z" fill="#000080"/>
<path d="M271.7 584.4L274.6 581.8L277.5 584.4L274.6 587.0Z" fill="#000080"/>
<path d="M280.1 585.8L283.0 583.2L285.9 585.8L283.0 588.4Z" fill="#000080"/>
<path d="M268.2 575.3L271.1 572.7L274.0 575.3L271.1 577.9Z" fill="#000080"/>
<path d="M257.0 564.0L259.9 561.4L262.8 564.0L259.9 566.6Z" fill="#000080"/>
<path d="M321.2 517.8L324.1 515.2L327.0 517.8L324.1 520.4Z" fill="#000080"/>
<path d="M332.5 520.9L335.4 518.3L338.3 520.9L335.4 523.5Z" fill="#000080"/>
<path d="M320.5 522.7L323.4 520.1L326.3 522.7L323.4 525.3Z" fill="#000080"/>
<path d="M307.2 536.0L310.1 533.4L313.0 536.0L310.1 538.6Z" fill="#000080"/>
<path d="M285.8 541.3L288.7 538.7L291.6 541.3L288.7 543.9Z" fill="#000080"/>
<path d="M307.9 543.7L310.8 541.1L313.7 543.7L310.8 546.3Z" fill="#000080"/>
<path d="M312.1 543.7L315.0 541.1L317.9 543.7L315.0 546.3Z" fill="#000080"/>
<path d="M312.8 548.4L315.7 545.8L318.6 548.4L315.7 551.0Z" fill="#000080"/>
<path d="M341.3 537.7L344.2 535.1L347.1 537.7L344.2 540.3Z" fill="#000080"/>
<path d="M346.0 540.5L348.9 537.9L351.8 540.5L348.9 543.1Z" fill="#000080"/>
<path d="M333.9 541.6L336.8 539.0L339.7 541.6L336.8 544.2Z" fill="#000080"/>
<path d="M331.8 544.4L334.7 541.8L337.6 544.4L334.7 547.0Z" fill="#000080"/>
<path d="M329.7 546.5L332.6 543.9L335.5 546.5L332.6 549.1Z" fill="#000080"/>
<path d="M345.3 545.1L348.2 542.5L351.1 545.1L348.2 547.7Z" fill="#000080"/>
<path d="M385.6 543.1L388.5 540.5L391.4 543.1L388.5 545.7Z" fill="#000080"/>
<path d="M386.9 553.2L389.8 550.6L392.7 553.2L389.8 555.8Z" fill="#000080"/>
<path d="M296.0 548.9L298.9 546.3L301.8 548.9L298.9 551.5Z" fill="#000080"/>
<path d="M298.1 551.7L301.0 549.1L303.9 551.7L301.0 554.3Z" fill="#000080"/>
<path d="M302.0 552.6L304.9 550.0L307.8 552.6L304.9 555.2Z" fill="#000080"/>
<path d="M292.1 552.6L295.0 550.0L297.9 552.6L295.0 555.2Z" fill="#000080"/>
<path d="M306.1 555.6L309.0 553.0L311.9 555.6L309.0 558.2Z" fill="#000080"/>
<path d="M318.2 554.7L321.1 552.1L324.0 554.7L321.1 557.3Z" fill="#000080"/>
<path d="M328.5 553.1L331.4 550.5L334.3 553.1L331.4 555.7Z" fill="#000080"/>
<path d="M344.8 556.3L347.7 553.7L350.6 556.3L347.7 558.9Z" fill="#000080"/>
<path d="M359.5 555.6L362.4 553.0L365.3 555.6L362.4 558.2Z" fill="#000080"/>
<path d="M363.3 559.8L366.2 557.2L369.1 559.8L366.2 562.4Z" fill="#000080"/>
<path d="M324.5 560.3L327.4 557.7L330.3 560.3L327.4 562.9Z" fill="#000080"/>
<path d="M282.7 557.7L285.6 555.1L288.5 557.7L285.6 560.3Z" fill="#000080"/>
<path d="M287.6 561.9L290.5 559.3L293.4 561.9L290.5 564.5Z" fill="#000080"/>
<path d="M290.4 563.3L293.3 560.7L296.2 563.3L293.3 565.9Z" fill="#000080"/>
<path d="M301.6 562.6L304.5 560.0L307.4 562.6L304.5 565.2Z" fill="#000080"/>
<path d="M306.2 563.8L309.1 561.2L312.0 563.8L309.1 566.4Z" fill="#000080"/>
<path d="M314.2 561.9L317.1 559.3L320.0 561.9L317.1 564.5Z" fill="#000080"/>
<path d="M296.7 566.9L299.6 564.3L302.5 566.9L299.6 569.5Z" fill="#000080"/>
<path d="M304.8 568.5L307.7 565.9L310.6 568.5L307.7 571.1Z" fill="#000080"/>
<path d="M349.5 564.7L352.4 562.1L355.3 564.7L352.4 567.3Z" fill="#000080"/>
<path d="M333.9 570.4L336.8 567.8L339.7 570.4L336.8 573.0Z" fill="#000080"/>
<path d="M340.6 569.0L343.5 566.4L346.4 569.0L343.5 571.6Z" fill="#000080"/>
<path d="M356.0 572.2L358.9 569.6L361.8 572.2L358.9 574.8Z" fill="#000080"/>
<path d="M350.7 578.8L353.6 576.2L356.5 578.8L353.6 581.4Z" fill="#000080"/>
<path d="M312.8 577.4L315.7 574.8L318.6 577.4L315.7 580.0Z" fill="#000080"/>
<path d="M295.3 582.7L298.2 580.1L301.1 582.7L298.2 585.3Z" fill="#000080"/>
<path d="M303.7 582.7L306.6 580.1L309.5 582.7L306.6 585.3Z" fill="#000080"/>
<path d="M335.0 585.1L337.9 582.5L340.8 585.1L337.9 587.7Z" fill="#000080"/>
<path d="M338.8 585.8L341.7 583.2L344.6 585.8L341.7 588.4Z" fill="#000080"/>
<path d="M377.8 583.4L380.7 580.8L383.6 583.4L380.7 586.0Z" fill="#000080"/>
<path d="M368.9 587.2L371.8 584.6L374.7 587.2L371.8 589.8Z" fill="#000080"/>
<path d="M303.7 591.4L306.6 588.8L309.5 591.4L306.6 594.0Z" fill="#000080"/>
<path d="M316.3 570.4L319.2 567.8L322.1 570.4L319.2 573.0Z" fill="#000080"/>
<path d="M412.5 517.8L415.4 515.2L418.3 517.8L415.4 520.4Z" fill="#000080"/>
<path d="M405.7 593.0L408.6 590.4L411.5 593.0L408.6 595.6Z" fill="#000080"/>
<path d="M367.4 439.5L370.3 436.9L373.2 439.5L370.3 442.1Z" fill="#000080"/>
<path d="M363.8 472.8L366.7 470.2L369.6 472.8L366.7 475.4Z" fill="#000080"/>
<path d="M329.0 486.7L331.9 484.1L334.8 486.7L331.9 489.3Z" fill="#000080"/>
<path d="M320.5 505.3L323.4 502.7L326.3 505.3L323.4 507.9Z" fill="#000080"/>
<path d="M343.1 512.6L346.0 510.0L348.9 512.6L346.0 515.2Z" fill="#000080"/>
<path d="M357.9 511.1L360.8 508.5L363.7 511.1L360.8 513.7Z" fill="#000080"/>
<path d="M191.1 594.9L194.0 592.3L196.9 594.9L194.0 597.5Z" fill="#000080"/>
<path d="M200.9 603.3L203.8 600.7L206.7 603.3L203.8 605.9Z" fill="#000080"/>
<path d="M208.6 597.0L211.5 594.4L214.4 597.0L211.5 599.6Z" fill="#000080"/>
<path d="M212.1 604.0L215.0 601.4L217.9 604.0L215.0 606.6Z" fill="#000080"/>
<path d="M221.2 598.4L224.1 595.8L227.0 598.4L224.1 601.0Z" fill="#000080"/>
<path d="M219.8 608.2L222.7 605.6L225.6 608.2L222.7 610.8Z" fill="#000080"/>
<path d="M235.3 597.0L238.2 594.4L241.1 597.0L238.2 599.6Z" fill="#000080"/>
<path d="M238.8 595.6L241.7 593.0L244.6 595.6L241.7 598.2Z" fill="#000080"/>
<path d="M233.9 606.8L236.8 604.2L239.7 606.8L236.8 609.4Z" fill="#000080"/>
<path d="M232.5 612.4L235.4 609.8L238.3 612.4L235.4 615.0Z" fill="#000080"/>
<path d="M252.8 595.6L255.7 593.0L258.6 595.6L255.7 598.2Z" fill="#000080"/>
<path d="M265.4 601.2L268.3 598.6L271.2 601.2L268.3 603.8Z" fill="#000080"/>
<path d="M254.9 611.0L257.8 608.4L260.7 611.0L257.8 613.6Z" fill="#000080"/>
<path d="M258.4 613.8L261.3 611.2L264.2 613.8L261.3 616.4Z" fill="#000080"/>
<path d="M264.0 612.4L266.9 609.8L269.8 612.4L266.9 615.0Z" fill="#000080"/>
<path d="M195.3 614.5L198.2 611.9L201.1 614.5L198.2 617.1Z" fill="#000080"/>
<path d="M198.1 612.4L201.0 609.8L203.9 612.4L201.0 615.0Z" fill="#000080"/>
<path d="M199.5 621.5L202.4 618.9L205.3 621.5L202.4 624.1Z" fill="#000080"/>
<path d="M208.6 622.9L211.5 620.3L214.4 622.9L211.5 625.5Z" fill="#000080"/>
<path d="M219.8 622.9L222.7 620.3L225.6 622.9L222.7 625.5Z" fill="#000080"/>
<path d="M224.7 622.9L227.6 620.3L230.5 622.9L227.6 625.5Z" fill="#000080"/>
<path d="M224.0 620.1L226.9 617.5L229.8 620.1L226.9 622.7Z" fill="#000080"/>
<path d="M239.5 618.7L242.4 616.1L245.3 618.7L242.4 621.3Z" fill="#000080"/>
<path d="M248.6 615.2L251.5 612.6L254.4 615.2L251.5 617.8Z" fill="#000080"/>
<path d="M257.0 619.4L259.9 616.8L262.8 619.4L259.9 622.0Z" fill="#000080"/>
<path d="M261.9 619.4L264.8 616.8L267.7 619.4L264.8 622.0Z" fill="#000080"/>
<path d="M250.7 626.4L253.6 623.8L256.5 626.4L253.6 629.0Z" fill="#000080"/>
<path d="M226.1 631.3L229.0 628.7L231.9 631.3L229.0 633.9Z" fill="#000080"/>
<path d="M238.1 631.3L241.0 628.7L243.9 631.3L241.0 633.9Z" fill="#000080"/>
<path d="M206.5 632.0L209.4 629.4L212.3 632.0L209.4 634.6Z" fill="#000080"/>
<path d="M221.2 636.2L224.1 633.6L227.0 636.2L224.1 638.8Z" fill="#000080"/>
<path d="M228.2 637.6L231.1 635.0L234.0 637.6L231.1 640.2Z" fill="#000080"/>
<path d="M234.6 638.3L237.5 635.7L240.4 638.3L237.5 640.9Z" fill="#000080"/>
<path d="M238.8 639.0L241.7 636.4L244.6 639.0L241.7 641.6Z" fill="#000080"/>
<path d="M250.0 630.6L252.9 628.0L255.8 630.6L252.9 633.2Z" fill="#000080"/>
<path d="M250.7 636.9L253.6 634.3L256.5 636.9L253.6 639.5Z" fill="#000080"/>
<path d="M253.5 637.6L256.4 635.0L259.3 637.6L256.4 640.2Z" fill="#000080"/>
<path d="M273.1 623.6L276.0 621.0L278.9 623.6L276.0 626.2Z" fill="#000080"/>
<path d="M278.0 618.0L280.9 615.4L283.8 618.0L280.9 620.6Z" fill="#000080"/>
<path d="M278.0 631.3L280.9 628.7L283.8 631.3L280.9 633.9Z" fill="#000080"/>
<path d="M275.2 638.3L278.1 635.7L281.0 638.3L278.1 640.9Z" fill="#000080"/>
<path d="M282.2 633.4L285.1 630.8L288.0 633.4L285.1 636.0Z" fill="#000080"/>
<path d="M285.0 620.1L287.9 617.5L290.8 620.1L287.9 622.7Z" fill="#000080"/>
<path d="M276.6 602.6L279.5 600.0L282.4 602.6L279.5 605.2Z" fill="#000080"/>
<path d="M272.4 599.1L275.3 596.5L278.2 599.1L275.3 601.7Z" fill="#000080"/>
<path d="M279.4 614.5L282.3 611.9L285.2 614.5L282.3 617.1Z" fill="#000080"/>
<path d="M219.1 650.3L222.0 647.7L224.9 650.3L222.0 652.9Z" fill="#000080"/>
<path d="M219.1 653.8L222.0 651.2L224.9 653.8L222.0 656.4Z" fill="#000080"/>
<path d="M225.4 656.6L228.3 654.0L231.2 656.6L228.3 659.2Z" fill="#000080"/>
<path d="M231.8 646.1L234.7 643.5L237.6 646.1L234.7 648.7Z" fill="#000080"/>
<path d="M197.5 662.2L200.4 659.6L203.3 662.2L200.4 664.8Z" fill="#000080"/>
<path d="M245.8 651.7L248.7 649.1L251.6 651.7L248.7 654.3Z" fill="#000080"/>
<path d="M224.6 668.0L227.5 665.4L230.4 668.0L227.5 670.6Z" fill="#000080"/>
<path d="M245.8 666.0L248.7 663.4L251.6 666.0L248.7 668.6Z" fill="#000080"/>
<path d="M280.8 655.9L283.7 653.3L286.6 655.9L283.7 658.5Z" fill="#000080"/>
<path d="M280.1 662.2L283.0 659.6L285.9 662.2L283.0 664.8Z" fill="#000080"/>
<path d="M268.5 666.6L271.4 664.0L274.3 666.6L271.4 669.2Z" fill="#000080"/>
<path d="M285.0 654.5L287.9 651.9L290.8 654.5L287.9 657.1Z" fill="#000080"/>
<path d="M305.8 597.7L308.7 595.1L311.6 597.7L308.7 600.3Z" fill="#000080"/>
<path d="M330.4 597.7L333.3 595.1L336.2 597.7L333.3 600.3Z" fill="#000080"/>
<path d="M368.9 597.0L371.8 594.4L374.7 597.0L371.8 599.6Z" fill="#000080"/>
<path d="M293.2 603.3L296.1 600.7L299.0 603.3L296.1 605.9Z" fill="#000080"/>
<path d="M290.4 605.4L293.3 602.8L296.2 605.4L293.3 608.0Z" fill="#000080"/>
<path d="M361.6 604.7L364.5 602.1L367.4 604.7L364.5 607.3Z" fill="#000080"/>
<path d="M282.7 608.9L285.6 606.3L288.5 608.9L285.6 611.5Z" fill="#000080"/>
<path d="M289.0 608.9L291.9 606.3L294.8 608.9L291.9 611.5Z" fill="#000080"/>
<path d="M298.8 608.9L301.7 606.3L304.6 608.9L301.7 611.5Z" fill="#000080"/>
<path d="M323.3 606.8L326.2 604.2L329.1 606.8L326.2 609.4Z" fill="#000080"/>
<path d="M317.7 610.3L320.6 607.7L323.5 610.3L320.6 612.9Z" fill="#000080"/>
<path d="M323.3 609.6L326.2 607.0L329.1 609.6L326.2 612.2Z" fill="#000080"/>
<path d="M306.5 614.5L309.4 611.9L312.3 614.5L309.4 617.1Z" fill="#000080"/>
<path d="M315.6 613.1L318.5 610.5L321.4 613.1L318.5 615.7Z" fill="#000080"/>
<path d="M289.0 615.9L291.9 613.3L294.8 615.9L291.9 618.5Z" fill="#000080"/>
<path d="M329.0 615.2L331.9 612.6L334.8 615.2L331.9 617.8Z" fill="#000080"/>
<path d="M338.8 611.7L341.7 609.1L344.6 611.7L341.7 614.3Z" fill="#000080"/>
<path d="M339.5 620.1L342.4 617.5L345.3 620.1L342.4 622.7Z" fill="#000080"/>
<path d="M347.9 627.8L350.8 625.2L353.7 627.8L350.8 630.4Z" fill="#000080"/>
<path d="M282.7 635.5L285.6 632.9L288.5 635.5L285.6 638.1Z" fill="#000080"/>
<path d="M296.0 635.5L298.9 632.9L301.8 635.5L298.9 638.1Z" fill="#000080"/>
<path d="M286.9 639.0L289.8 636.4L292.7 639.0L289.8 641.6Z" fill="#000080"/>
<path d="M277.1 638.3L280.0 635.7L282.9 638.3L280.0 640.9Z" fill="#000080"/>
<path d="M307.9 643.2L310.8 640.6L313.7 643.2L310.8 645.8Z" fill="#000080"/>
<path d="M302.3 645.3L305.2 642.7L308.1 645.3L305.2 647.9Z" fill="#000080"/>
<path d="M314.2 642.5L317.1 639.9L320.0 642.5L317.1 645.1Z" fill="#000080"/>
<path d="M314.2 646.7L317.1 644.1L320.0 646.7L317.1 649.3Z" fill="#000080"/>
<path d="M318.4 640.4L321.3 637.8L324.2 640.4L321.3 643.0Z" fill="#000080"/>
<path d="M319.1 643.2L322.0 640.6L324.9 643.2L322.0 645.8Z" fill="#000080"/>
<path d="M322.6 644.6L325.5 642.0L328.4 644.6L325.5 647.2Z" fill="#000080"/>
<path d="M322.6 648.1L325.5 645.5L328.4 648.1L325.5 650.7Z" fill="#000080"/>
<path d="M325.7 640.4L328.6 637.8L331.5 640.4L328.6 643.0Z" fill="#000080"/>
<path d="M339.5 642.5L342.4 639.9L345.3 642.5L342.4 645.1Z" fill="#000080"/>
<path d="M338.1 644.6L341.0 642.0L343.9 644.6L341.0 647.2Z" fill="#000080"/>
<path d="M355.6 652.4L358.5 649.8L361.4 652.4L358.5 655.0Z" fill="#000080"/>
<path d="M352.1 651.0L355.0 648.4L357.9 651.0L355.0 653.6Z" fill="#000080"/>
<path d="M293.2 653.0L296.1 650.4L299.0 653.0L296.1 655.6Z" fill="#000080"/>
<path d="M314.2 655.6L317.1 653.0L320.0 655.6L317.1 658.2Z" fill="#000080"/>
<path d="M289.7 658.7L292.6 656.1L295.5 658.7L292.6 661.3Z" fill="#000080"/>
<path d="M329.6 662.9L332.5 660.3L335.4 662.9L332.5 665.5Z" fill="#000080"/>
<path d="M337.2 665.9L340.1 663.3L343.0 665.9L340.1 668.5Z" fill="#000080"/>
<path d="M401.6 609.6L404.5 607.0L407.4 609.6L404.5 612.2Z" fill="#000080"/>
<path d="M393.2 633.3L396.1 630.7L399.0 633.3L396.1 635.9Z" fill="#000080"/>
<path d="M402.3 647.0L405.2 644.4L408.1 647.0L405.2 649.6Z" fill="#000080"/>
<path d="M395.4 662.7L398.3 660.1L401.2 662.7L398.3 665.3Z" fill="#000080"/>
<path d="M263.6 674.3L266.5 671.7L269.4 674.3L266.5 676.9Z" fill="#000080"/>
<path d="M277.5 675.5L280.4 672.9L283.3 675.5L280.4 678.1Z" fill="#000080"/>
<path d="M289.5 672.8L292.4 670.2L295.3 672.8L292.4 675.4Z" fill="#000080"/>
<path d="M311.7 671.0L314.6 668.4L317.5 671.0L314.6 673.6Z" fill="#000080"/>
<path d="M203.0 683.2L205.9 680.6L208.8 683.2L205.9 685.8Z" fill="#000080"/>
<path d="M247.5 680.5L250.4 677.9L253.3 680.5L250.4 683.1Z" fill="#000080"/>
<path d="M231.1 688.5L234.0 685.9L236.9 688.5L234.0 691.1Z" fill="#000080"/>
<path d="M236.8 690.3L239.7 687.7L242.6 690.3L239.7 692.9Z" fill="#000080"/>
<path d="M266.8 689.4L269.7 686.8L272.6 689.4L269.7 692.0Z" fill="#000080"/>
<path d="M222.9 704.1L225.8 701.5L228.7 704.1L225.8 706.7Z" fill="#000080"/>
<path d="M294.8 711.2L297.7 708.6L300.6 711.2L297.7 713.8Z" fill="#000080"/>
<path d="M271.3 721.5L274.2 718.9L277.1 721.5L274.2 724.1Z" fill="#000080"/>
<path d="M311.7 737.9L314.6 735.3L317.5 737.9L314.6 740.5Z" fill="#000080"/>
<path d="M404.6 692.0L407.5 689.4L410.4 692.0L407.5 694.6Z" fill="#000080"/>
<path d="M345.8 707.7L348.7 705.1L351.6 707.7L348.7 710.3Z" fill="#000080"/>
<rect x="228.0" y="519.6" width="8.0" height="7.2" fill="#99ccff" stroke="#fff" stroke-width="1.3"/>
<rect x="316.4" y="475.2" width="8.0" height="7.2" fill="#99ccff" stroke="#fff" stroke-width="1.3"/>
<rect x="313.6" y="515.4" width="8.0" height="7.2" fill="#99ccff" stroke="#fff" stroke-width="1.3"/>
<rect x="273.7" y="566.1" width="8.0" height="7.2" fill="#99ccff" stroke="#fff" stroke-width="1.3"/>
<rect x="272.9" y="588.8" width="8.0" height="7.2" fill="#99ccff" stroke="#fff" stroke-width="1.3"/>
<rect x="286.5" y="543.1" width="8.0" height="7.2" fill="#99ccff" stroke="#fff" stroke-width="1.3"/>
<rect x="350.3" y="529.6" width="8.0" height="7.2" fill="#99ccff" stroke="#fff" stroke-width="1.3"/>
<rect x="326.0" y="535.2" width="8.0" height="7.2" fill="#99ccff" stroke="#fff" stroke-width="1.3"/>
<rect x="333.5" y="555.5" width="8.0" height="7.2" fill="#99ccff" stroke="#fff" stroke-width="1.3"/>
<rect x="360.5" y="565.8" width="8.0" height="7.2" fill="#99ccff" stroke="#fff" stroke-width="1.3"/>
<rect x="371.3" y="587.8" width="8.0" height="7.2" fill="#99ccff" stroke="#fff" stroke-width="1.3"/>
<rect x="297.7" y="591.3" width="8.0" height="7.2" fill="#99ccff" stroke="#fff" stroke-width="1.3"/>
<rect x="474.3" y="551.9" width="8.0" height="7.2" fill="#99ccff" stroke="#fff" stroke-width="1.3"/>
<rect x="390.5" y="589.8" width="8.0" height="7.2" fill="#99ccff" stroke="#fff" stroke-width="1.3"/>
<rect x="304.0" y="604.6" width="8.0" height="7.2" fill="#99ccff" stroke="#fff" stroke-width="1.3"/>
<rect x="297.0" y="615.8" width="8.0" height="7.2" fill="#99ccff" stroke="#fff" stroke-width="1.3"/>
<rect x="285.8" y="626.3" width="8.0" height="7.2" fill="#99ccff" stroke="#fff" stroke-width="1.3"/>
<rect x="293.5" y="626.3" width="8.0" height="7.2" fill="#99ccff" stroke="#fff" stroke-width="1.3"/>
<rect x="314.5" y="628.4" width="8.0" height="7.2" fill="#99ccff" stroke="#fff" stroke-width="1.3"/>
<rect x="300.5" y="646.9" width="8.0" height="7.2" fill="#99ccff" stroke="#fff" stroke-width="1.3"/>
<rect x="346.1" y="643.6" width="8.0" height="7.2" fill="#99ccff" stroke="#fff" stroke-width="1.3"/>
<rect x="376.9" y="642.5" width="8.0" height="7.2" fill="#99ccff" stroke="#fff" stroke-width="1.3"/>
<rect x="344.7" y="610.9" width="8.0" height="7.2" fill="#99ccff" stroke="#fff" stroke-width="1.3"/>
<rect x="356.6" y="613.0" width="8.0" height="7.2" fill="#99ccff" stroke="#fff" stroke-width="1.3"/>
<rect x="362.9" y="610.2" width="8.0" height="7.2" fill="#99ccff" stroke="#fff" stroke-width="1.3"/>
<rect x="371.3" y="613.0" width="8.0" height="7.2" fill="#99ccff" stroke="#fff" stroke-width="1.3"/>
<rect x="367.1" y="602.5" width="8.0" height="7.2" fill="#99ccff" stroke="#fff" stroke-width="1.3"/>
<rect x="381.8" y="622.1" width="8.0" height="7.2" fill="#99ccff" stroke="#fff" stroke-width="1.3"/>
<rect x="386.5" y="626.7" width="8.0" height="7.2" fill="#99ccff" stroke="#fff" stroke-width="1.3"/>
<rect x="384.4" y="623.9" width="8.0" height="7.2" fill="#99ccff" stroke="#fff" stroke-width="1.3"/>
<rect x="415.7" y="629.2" width="8.0" height="7.2" fill="#99ccff" stroke="#fff" stroke-width="1.3"/>
<rect x="416.5" y="635.0" width="8.0" height="7.2" fill="#99ccff" stroke="#fff" stroke-width="1.3"/>
<rect x="390.5" y="664.8" width="8.0" height="7.2" fill="#99ccff" stroke="#fff" stroke-width="1.3"/>
<rect x="373.0" y="678.7" width="8.0" height="7.2" fill="#99ccff" stroke="#fff" stroke-width="1.3"/>
<rect x="428.7" y="675.3" width="8.0" height="7.2" fill="#99ccff" stroke="#fff" stroke-width="1.3"/>
<rect x="454.8" y="674.6" width="8.0" height="7.2" fill="#99ccff" stroke="#fff" stroke-width="1.3"/>
<rect x="352.0" y="703.6" width="8.0" height="7.2" fill="#99ccff" stroke="#fff" stroke-width="1.3"/>
<rect x="337.5" y="710.4" width="8.0" height="7.2" fill="#99ccff" stroke="#fff" stroke-width="1.3"/>
<ellipse cx="178.8" cy="563.6" rx="5.2" ry="4.9" fill="#ff0000"/>
<ellipse cx="182.0" cy="596.9" rx="5.2" ry="4.9" fill="#ff0000"/>
<ellipse cx="188.2" cy="633.3" rx="5.2" ry="4.9" fill="#ff0000"/>
<ellipse cx="166.8" cy="659.6" rx="5.2" ry="4.9" fill="#ff0000"/>
<ellipse cx="187.5" cy="659.5" rx="5.2" ry="4.9" fill="#ff0000"/>
<ellipse cx="230.4" cy="562.6" rx="5.2" ry="4.9" fill="#ff0000"/>
<ellipse cx="253.6" cy="601.9" rx="5.2" ry="4.9" fill="#ff0000"/>
<ellipse cx="204.5" cy="654.7" rx="5.2" ry="4.9" fill="#ff0000"/>
<ellipse cx="249.7" cy="658.8" rx="5.2" ry="4.9" fill="#ff0000"/>
<ellipse cx="247.4" cy="674.6" rx="5.2" ry="4.9" fill="#ff0000"/>
<ellipse cx="312.9" cy="630.6" rx="5.2" ry="4.9" fill="#ff0000"/>
<path d="M169.6 518.7L173.6 515.0L177.6 518.7L173.6 522.4Z" fill="#ff00ff" stroke="#fff" stroke-width="1.2"/>
<path d="M276.4 510.8L280.4 507.1L284.4 510.8L280.4 514.5Z" fill="#ff00ff" stroke="#fff" stroke-width="1.2"/>
<path d="M314.4 528.2L318.4 524.5L322.4 528.2L318.4 531.9Z" fill="#ff00ff" stroke="#fff" stroke-width="1.2"/>
<path d="M201.9 553.5L205.9 549.8L209.9 553.5L205.9 557.2Z" fill="#ff00ff" stroke="#fff" stroke-width="1.2"/>
<path d="M248.9 549.3L252.9 545.6L256.9 549.3L252.9 553.0Z" fill="#ff00ff" stroke="#fff" stroke-width="1.2"/>
<path d="M265.7 543.0L269.7 539.3L273.7 543.0L269.7 546.7Z" fill="#ff00ff" stroke="#fff" stroke-width="1.2"/>
<path d="M261.5 560.8L265.5 557.1L269.5 560.8L265.5 564.5Z" fill="#ff00ff" stroke="#fff" stroke-width="1.2"/>
<path d="M246.1 572.9L250.1 569.2L254.1 572.9L250.1 576.6Z" fill="#ff00ff" stroke="#fff" stroke-width="1.2"/>
<path d="M247.5 585.8L251.5 582.1L255.5 585.8L251.5 589.5Z" fill="#ff00ff" stroke="#fff" stroke-width="1.2"/>
<path d="M260.1 591.9L264.1 588.2L268.1 591.9L264.1 595.6Z" fill="#ff00ff" stroke="#fff" stroke-width="1.2"/>
<path d="M279.0 579.7L283.0 576.0L287.0 579.7L283.0 583.4Z" fill="#ff00ff" stroke="#fff" stroke-width="1.2"/>
<path d="M283.2 576.7L287.2 573.0L291.2 576.7L287.2 580.4Z" fill="#ff00ff" stroke="#fff" stroke-width="1.2"/>
<path d="M309.6 532.5L313.6 528.8L317.6 532.5L313.6 536.2Z" fill="#ff00ff" stroke="#fff" stroke-width="1.2"/>
<path d="M313.1 533.2L317.1 529.5L321.1 533.2L317.1 536.9Z" fill="#ff00ff" stroke="#fff" stroke-width="1.2"/>
<path d="M291.7 535.3L295.7 531.6L299.7 535.3L295.7 539.0Z" fill="#ff00ff" stroke="#fff" stroke-width="1.2"/>
<path d="M339.3 542.6L343.3 538.9L347.3 542.6L343.3 546.3Z" fill="#ff00ff" stroke="#fff" stroke-width="1.2"/>
<path d="M363.6 538.8L367.6 535.1L371.6 538.8L367.6 542.5Z" fill="#ff00ff" stroke="#fff" stroke-width="1.2"/>
<path d="M385.4 534.5L389.4 530.8L393.4 534.5L389.4 538.2Z" fill="#ff00ff" stroke="#fff" stroke-width="1.2"/>
<path d="M296.0 559.8L300.0 556.1L304.0 559.8L300.0 563.5Z" fill="#ff00ff" stroke="#fff" stroke-width="1.2"/>
<path d="M315.9 564.7L319.9 561.0L323.9 564.7L319.9 568.4Z" fill="#ff00ff" stroke="#fff" stroke-width="1.2"/>
<path d="M334.6 560.5L338.6 556.8L342.6 560.5L338.6 564.2Z" fill="#ff00ff" stroke="#fff" stroke-width="1.2"/>
<path d="M315.9 575.0L319.9 571.3L323.9 575.0L319.9 578.7Z" fill="#ff00ff" stroke="#fff" stroke-width="1.2"/>
<path d="M327.1 580.6L331.1 576.9L335.1 580.6L331.1 584.3Z" fill="#ff00ff" stroke="#fff" stroke-width="1.2"/>
<path d="M290.7 575.5L294.7 571.8L298.7 575.5L294.7 579.2Z" fill="#ff00ff" stroke="#fff" stroke-width="1.2"/>
<path d="M287.9 582.7L291.9 579.0L295.9 582.7L291.9 586.4Z" fill="#ff00ff" stroke="#fff" stroke-width="1.2"/>
<path d="M319.4 594.0L323.4 590.3L327.4 594.0L323.4 597.7Z" fill="#ff00ff" stroke="#fff" stroke-width="1.2"/>
<path d="M356.3 594.2L360.3 590.5L364.3 594.2L360.3 597.9Z" fill="#ff00ff" stroke="#fff" stroke-width="1.2"/>
<path d="M241.2 601.2L245.2 597.5L249.2 601.2L245.2 604.9Z" fill="#ff00ff" stroke="#fff" stroke-width="1.2"/>
<path d="M261.1 628.1L265.1 624.4L269.1 628.1L265.1 631.8Z" fill="#ff00ff" stroke="#fff" stroke-width="1.2"/>
<path d="M327.4 602.9L331.4 599.2L335.4 602.9L331.4 606.6Z" fill="#ff00ff" stroke="#fff" stroke-width="1.2"/>
<path d="M334.2 619.8L338.2 616.1L342.2 619.8L338.2 623.5Z" fill="#ff00ff" stroke="#fff" stroke-width="1.2"/>
<path d="M352.4 637.9L356.4 634.2L360.4 637.9L356.4 641.6Z" fill="#ff00ff" stroke="#fff" stroke-width="1.2"/>
<path d="M360.5 647.2L364.5 643.5L368.5 647.2L364.5 650.9Z" fill="#ff00ff" stroke="#fff" stroke-width="1.2"/>
<path d="M290.8 665.6L294.8 661.9L298.8 665.6L294.8 669.3Z" fill="#ff00ff" stroke="#fff" stroke-width="1.2"/>
<path d="M276.4 695.1L280.4 691.4L284.4 695.1L280.4 698.8Z" fill="#ff00ff" stroke="#fff" stroke-width="1.2"/>
<path d="M325.2 514.0L329.2 510.3L333.2 514.0L329.2 517.7Z" fill="#ff00ff" stroke="#fff" stroke-width="1.2"/>
<path d="M157.1 598.3L161.5 590.3L165.9 598.3Z" fill="#ffff99" stroke="#e02000" stroke-width="1.3"/>
<path d="M285.9 524.6L290.3 516.6L294.7 524.6Z" fill="#ffff99" stroke="#e02000" stroke-width="1.3"/>
<path d="M226.0 552.6L230.4 544.6L234.8 552.6Z" fill="#ffff99" stroke="#e02000" stroke-width="1.3"/>
<path d="M203.2 578.6L207.6 570.6L212.0 578.6Z" fill="#ffff99" stroke="#e02000" stroke-width="1.3"/>
<path d="M289.6 592.0L294.0 584.0L298.4 592.0Z" fill="#ffff99" stroke="#e02000" stroke-width="1.3"/>
<path d="M228.2 602.4L232.6 594.4L237.0 602.4Z" fill="#ffff99" stroke="#e02000" stroke-width="1.3"/>
<path d="M224.4 610.8L228.8 602.8L233.2 610.8Z" fill="#ffff99" stroke="#e02000" stroke-width="1.3"/>
<path d="M221.1 618.9L225.5 610.9L229.9 618.9Z" fill="#ffff99" stroke="#e02000" stroke-width="1.3"/>
<path d="M190.3 626.9L194.7 618.9L199.1 626.9Z" fill="#ffff99" stroke="#e02000" stroke-width="1.3"/>
<path d="M192.4 643.7L196.8 635.7L201.2 643.7Z" fill="#ffff99" stroke="#e02000" stroke-width="1.3"/>
<path d="M293.6 533.5L298.6 523.5L303.6 533.5Z" fill="#00ffff"/>
<path d="M274.0 545.0L279.0 535.0L284.0 545.0Z" fill="#00ffff"/>
<path d="M285.5 574.4L290.5 564.4L295.5 574.4Z" fill="#00ffff"/>
<path d="M308.6 587.0L313.6 577.0L318.6 587.0Z" fill="#00ffff"/>
<path d="M374.5 561.8L379.5 551.8L384.5 561.8Z" fill="#00ffff"/>
<path d="M368.6 566.9L373.6 556.9L378.6 566.9Z" fill="#00ffff"/>
<path d="M242.0 611.8L247.0 601.8L252.0 611.8Z" fill="#00ffff"/>
<path d="M241.6 624.4L246.6 614.4L251.6 624.4Z" fill="#00ffff"/>
<path d="M284.3 666.7L289.3 656.7L294.3 666.7Z" fill="#00ffff"/>
<path d="M307.9 608.3L312.9 598.3L317.9 608.3Z" fill="#00ffff"/>
<path d="M314.9 624.4L319.9 614.4L324.9 624.4Z" fill="#00ffff"/>
<path d="M301.6 628.6L306.6 618.6L311.6 628.6Z" fill="#00ffff"/>
<path d="M312.1 627.9L317.1 617.9L322.1 627.9Z" fill="#00ffff"/>
<path d="M286.2 636.3L291.2 626.3L296.2 636.3Z" fill="#00ffff"/>
<path d="M383.8 667.2L388.8 657.2L393.8 667.2Z" fill="#00ffff"/>
<path d="M319.5 678.8L324.5 668.8L329.5 678.8Z" fill="#00ffff"/>
<path d="M328.7 698.2L333.7 688.2L338.7 698.2Z" fill="#00ffff"/>
<path d="M282.3 596.5L287.3 586.5L292.3 596.5Z" fill="#00ffff"/>
<path d="M281.3 605.0L286.3 595.0L291.3 605.0Z" fill="#00ffff"/>
<path d="M343.0 601.0L348.0 591.0L353.0 601.0Z" fill="#00ffff"/>
<text transform="translate(37.56,614.00) scale(1.0,1)" font-size="10.3" letter-spacing="1.35" stroke="#000" stroke-width="0.25" font-family="Liberation Sans, sans-serif" font-weight="bold">-0.15</text>
<text transform="translate(110.81,614.00) scale(1.0,1)" font-size="10.3" letter-spacing="1.35" stroke="#000" stroke-width="0.25" font-family="Liberation Sans, sans-serif" font-weight="bold">-0.10</text>
<text transform="translate(184.06,614.00) scale(1.0,1)" font-size="10.3" letter-spacing="1.35" stroke="#000" stroke-width="0.25" font-family="Liberation Sans, sans-serif" font-weight="bold">-0.05</text>
<text transform="translate(259.70,614.00) scale(1.0,1)" font-size="10.3" letter-spacing="1.35" stroke="#000" stroke-width="0.25" font-family="Liberation Sans, sans-serif" font-weight="bold">0.00</text>
<text transform="translate(332.95,614.00) scale(1.0,1)" font-size="10.3" letter-spacing="1.35" stroke="#000" stroke-width="0.25" font-family="Liberation Sans, sans-serif" font-weight="bold">0.05</text>
<text transform="translate(406.20,614.00) scale(1.0,1)" font-size="10.3" letter-spacing="1.35" stroke="#000" stroke-width="0.25" font-family="Liberation Sans, sans-serif" font-weight="bold">0.10</text>
<text transform="translate(479.45,614.00) scale(1.0,1)" font-size="10.3" letter-spacing="1.35" stroke="#000" stroke-width="0.25" font-family="Liberation Sans, sans-serif" font-weight="bold">0.15</text>
<text transform="translate(236.91,434.20) scale(1.0,1)" font-size="10.3" letter-spacing="1.35" stroke="#000" stroke-width="0.25" font-family="Liberation Sans, sans-serif" font-weight="bold">0.15</text>
<text transform="translate(236.91,488.20) scale(1.0,1)" font-size="10.3" letter-spacing="1.35" stroke="#000" stroke-width="0.25" font-family="Liberation Sans, sans-serif" font-weight="bold">0.10</text>
<text transform="translate(236.91,542.20) scale(1.0,1)" font-size="10.3" letter-spacing="1.35" stroke="#000" stroke-width="0.25" font-family="Liberation Sans, sans-serif" font-weight="bold">0.05</text>
<text transform="translate(236.91,596.20) scale(1.0,1)" font-size="10.3" letter-spacing="1.35" stroke="#000" stroke-width="0.25" font-family="Liberation Sans, sans-serif" font-weight="bold">0.00</text>
<text transform="translate(232.13,650.20) scale(1.0,1)" font-size="10.3" letter-spacing="1.35" stroke="#000" stroke-width="0.25" font-family="Liberation Sans, sans-serif" font-weight="bold">-0.05</text>
<text transform="translate(232.13,704.20) scale(1.0,1)" font-size="10.3" letter-spacing="1.35" stroke="#000" stroke-width="0.25" font-family="Liberation Sans, sans-serif" font-weight="bold">-0.10</text>
<text transform="translate(232.13,758.20) scale(1.0,1)" font-size="10.3" letter-spacing="1.35" stroke="#000" stroke-width="0.25" font-family="Liberation Sans, sans-serif" font-weight="bold">-0.15</text>
<text x="37.5" y="441.4" font-size="19.5" text-anchor="start" font-family="Liberation Sans, sans-serif" font-weight="bold" stroke="#000" stroke-width="0.3">B</text>
<rect x="29.5" y="799.5" width="484.5" height="350.0" fill="#fff" stroke="#222" stroke-width="1.4"/>
<rect x="52" y="821.5" width="439.5" height="305.0" fill="#c0c0c0"/>
<path d="M52 1126.5V821.5H491.5" fill="none" stroke="#8a8a8a" stroke-width="1"/>
<path d="M52 1126.5H491.5V821.5" fill="none" stroke="#9a9a9a" stroke-width="1"/>
<line x1="52" x2="491.5" y1="859.6" y2="859.6" stroke="#8c8c8c" stroke-width="0.9"/>
<line x1="52" x2="491.5" y1="897.8" y2="897.8" stroke="#8c8c8c" stroke-width="0.9"/>
<line x1="52" x2="491.5" y1="935.9" y2="935.9" stroke="#8c8c8c" stroke-width="0.9"/>
<line x1="52" x2="491.5" y1="1012.1" y2="1012.1" stroke="#8c8c8c" stroke-width="0.9"/>
<line x1="52" x2="491.5" y1="1050.2" y2="1050.2" stroke="#8c8c8c" stroke-width="0.9"/>
<line x1="52" x2="491.5" y1="1088.4" y2="1088.4" stroke="#8c8c8c" stroke-width="0.9"/>
<line x1="50.65" x2="492.6" y1="974.6" y2="974.6" stroke="#000" stroke-width="2.7"/>
<line x1="272" x2="272" y1="820.4" y2="1127.6" stroke="#000" stroke-width="2.7"/>
<line x1="52.0" x2="52.0" y1="974.6" y2="980.6" stroke="#000" stroke-width="2.2"/>
<line x1="125.2" x2="125.2" y1="974.6" y2="980.6" stroke="#000" stroke-width="2.2"/>
<line x1="198.5" x2="198.5" y1="974.6" y2="980.6" stroke="#000" stroke-width="2.2"/>
<line x1="345.0" x2="345.0" y1="974.6" y2="980.6" stroke="#000" stroke-width="2.2"/>
<line x1="418.2" x2="418.2" y1="974.6" y2="980.6" stroke="#000" stroke-width="2.2"/>
<line x1="491.5" x2="491.5" y1="974.6" y2="980.6" stroke="#000" stroke-width="2.2"/>
<line x1="265.15" x2="272" y1="821.5" y2="821.5" stroke="#000" stroke-width="2.2"/>
<line x1="265.15" x2="272" y1="859.6" y2="859.6" stroke="#000" stroke-width="2.2"/>
<line x1="265.15" x2="272" y1="897.8" y2="897.8" stroke="#000" stroke-width="2.2"/>
<line x1="265.15" x2="272" y1="935.9" y2="935.9" stroke="#000" stroke-width="2.2"/>
<line x1="265.15" x2="272" y1="974.0" y2="974.0" stroke="#000" stroke-width="2.2"/>
<line x1="265.15" x2="272" y1="1012.1" y2="1012.1" stroke="#000" stroke-width="2.2"/>
<line x1="265.15" x2="272" y1="1050.2" y2="1050.2" stroke="#000" stroke-width="2.2"/>
<line x1="265.15" x2="272" y1="1088.4" y2="1088.4" stroke="#000" stroke-width="2.2"/>
<line x1="265.15" x2="272" y1="1126.5" y2="1126.5" stroke="#000" stroke-width="2.2"/>
<rect x="180.0" y="851.5" width="7.4" height="8.4" fill="#ff00ff"/>
<rect x="162.0" y="985.5" width="7.4" height="8.4" fill="#ff00ff"/>
<rect x="126.9" y="1069.6" width="7.4" height="8.4" fill="#ff00ff"/>
<rect x="158.1" y="1101.4" width="7.4" height="8.4" fill="#ff00ff"/>
<rect x="168.5" y="1103.5" width="7.4" height="8.4" fill="#ff00ff"/>
<rect x="186.7" y="930.8" width="7.4" height="8.4" fill="#ff00ff"/>
<rect x="220.3" y="932.5" width="7.4" height="8.4" fill="#ff00ff"/>
<rect x="201.6" y="972.0" width="7.4" height="8.4" fill="#ff00ff"/>
<rect x="240.0" y="952.6" width="7.4" height="8.4" fill="#ff00ff"/>
<rect x="194.4" y="977.6" width="7.4" height="8.4" fill="#ff00ff"/>
<rect x="222.4" y="985.7" width="7.4" height="8.4" fill="#ff00ff"/>
<rect x="199.3" y="1007.7" width="7.4" height="8.4" fill="#ff00ff"/>
<rect x="263.1" y="981.8" width="7.4" height="8.4" fill="#ff00ff"/>
<rect x="263.1" y="997.2" width="7.4" height="8.4" fill="#ff00ff"/>
<rect x="240.0" y="1004.2" width="7.4" height="8.4" fill="#ff00ff"/>
<rect x="261.7" y="1016.9" width="7.4" height="8.4" fill="#ff00ff"/>
<rect x="235.0" y="1036.5" width="7.4" height="8.4" fill="#ff00ff"/>
<rect x="238.9" y="1037.1" width="7.4" height="8.4" fill="#ff00ff"/>
<rect x="262.2" y="1039.0" width="7.4" height="8.4" fill="#ff00ff"/>
<rect x="228.7" y="1057.2" width="7.4" height="8.4" fill="#ff00ff"/>
<rect x="285.4" y="1070.0" width="7.4" height="8.4" fill="#ff00ff"/>
<rect x="307.3" y="1031.6" width="7.4" height="8.4" fill="#ff00ff"/>
<rect x="293.5" y="935.7" width="7.4" height="8.4" fill="#ff00ff"/>
<rect x="287.5" y="980.4" width="7.4" height="8.4" fill="#ff00ff"/>
<rect x="309.2" y="988.1" width="7.4" height="8.4" fill="#ff00ff"/>
<rect x="289.6" y="999.3" width="7.4" height="8.4" fill="#ff00ff"/>
<rect x="309.2" y="1001.4" width="7.4" height="8.4" fill="#ff00ff"/>
<rect x="352.0" y="1002.4" width="7.4" height="8.4" fill="#ff00ff"/>
<rect x="297.6" y="1020.4" width="7.4" height="8.4" fill="#ff00ff"/>
<path d="M161.2 905.0L165.7 894.4L170.2 905.0Z" fill="#ffff00"/>
<path d="M175.7 919.3L180.2 908.7L184.7 919.3Z" fill="#ffff00"/>
<path d="M149.3 1017.2L153.8 1006.6L158.3 1017.2Z" fill="#ffff00"/>
<path d="M212.3 915.4L216.8 904.8L221.3 915.4Z" fill="#ffff00"/>
<path d="M226.3 936.8L230.8 926.2L235.3 936.8Z" fill="#ffff00"/>
<path d="M250.1 929.1L254.6 918.5L259.1 929.1Z" fill="#ffff00"/>
<path d="M254.6 965.6L259.1 955.0L263.6 965.6Z" fill="#ffff00"/>
<path d="M271.0 985.8L275.5 975.2L280.0 985.8Z" fill="#ffff00"/>
<path d="M285.3 981.1L289.8 970.5L294.3 981.1Z" fill="#ffff00"/>
<path d="M157.1 1037.8L160.9 1033.5L164.7 1037.8L160.9 1042.1Z" fill="#ff9900"/>
<path d="M218.1 936.7L221.9 932.4L225.7 936.7L221.9 941.0Z" fill="#ff9900"/>
<path d="M195.0 976.3L198.8 972.0L202.6 976.3L198.8 980.6Z" fill="#ff9900"/>
<path d="M278.9 971.6L282.7 967.3L286.5 971.6L282.7 975.9Z" fill="#ff9900"/>
<path d="M209.7 996.5L213.5 992.2L217.3 996.5L213.5 1000.8Z" fill="#ff9900"/>
<path d="M266.5 1002.1L270.3 997.8L274.1 1002.1L270.3 1006.4Z" fill="#ff9900"/>
<path d="M261.3 1025.3L265.1 1021.0L268.9 1025.3L265.1 1029.6Z" fill="#ff9900"/>
<path d="M170.3 884.2L174.8 879.4L179.3 884.2L174.8 889.0Z" fill="#00ffff"/>
<path d="M155.5 901.1L160.0 896.3L164.5 901.1L160.0 905.9Z" fill="#00ffff"/>
<path d="M161.4 916.4L165.9 911.6L170.4 916.4L165.9 921.2Z" fill="#00ffff"/>
<path d="M48.8 920.5L53.3 915.7L57.8 920.5L53.3 925.3Z" fill="#00ffff"/>
<path d="M137.7 1003.3L142.2 998.5L146.7 1003.3L142.2 1008.1Z" fill="#00ffff"/>
<path d="M298.4 860.7L302.9 855.9L307.4 860.7L302.9 865.5Z" fill="#00ffff"/>
<path d="M286.4 890.4L290.9 885.6L295.4 890.4L290.9 895.2Z" fill="#00ffff"/>
<path d="M309.7 887.8L314.2 883.0L318.7 887.8L314.2 892.6Z" fill="#00ffff"/>
<path d="M302.5 897.6L307.0 892.8L311.5 897.6L307.0 902.4Z" fill="#00ffff"/>
<path d="M274.3 908.5L278.8 903.7L283.3 908.5L278.8 913.3Z" fill="#00ffff"/>
<path d="M194.3 963.5L198.8 958.7L203.3 963.5L198.8 968.3Z" fill="#00ffff"/>
<path d="M227.0 974.8L231.5 970.0L236.0 974.8L231.5 979.6Z" fill="#00ffff"/>
<path d="M261.6 931.5L266.1 926.7L270.6 931.5L266.1 936.3Z" fill="#00ffff"/>
<path d="M251.1 946.9L255.6 942.1L260.1 946.9L255.6 951.7Z" fill="#00ffff"/>
<path d="M274.2 929.4L278.7 924.6L283.2 929.4L278.7 934.2Z" fill="#00ffff"/>
<path d="M265.8 963.1L270.3 958.3L274.8 963.1L270.3 967.9Z" fill="#00ffff"/>
<path d="M239.9 960.3L244.4 955.5L248.9 960.3L244.4 965.1Z" fill="#00ffff"/>
<path d="M261.6 973.8L266.1 969.0L270.6 973.8L266.1 978.6Z" fill="#00ffff"/>
<path d="M198.5 986.0L203.0 981.2L207.5 986.0L203.0 990.8Z" fill="#00ffff"/>
<path d="M215.3 993.7L219.8 988.9L224.3 993.7L219.8 998.5Z" fill="#00ffff"/>
<path d="M200.6 1005.6L205.1 1000.8L209.6 1005.6L205.1 1010.4Z" fill="#00ffff"/>
<path d="M255.0 990.2L259.5 985.4L264.0 990.2L259.5 995.0Z" fill="#00ffff"/>
<path d="M251.1 995.1L255.6 990.3L260.1 995.1L255.6 999.9Z" fill="#00ffff"/>
<path d="M225.9 1015.4L230.4 1010.6L234.9 1015.4L230.4 1020.2Z" fill="#00ffff"/>
<path d="M243.4 1007.7L247.9 1002.9L252.4 1007.7L247.9 1012.5Z" fill="#00ffff"/>
<path d="M242.0 1021.1L246.5 1016.3L251.0 1021.1L246.5 1025.9Z" fill="#00ffff"/>
<path d="M353.6 915.1L358.1 910.3L362.6 915.1L358.1 919.9Z" fill="#00ffff"/>
<path d="M305.6 932.9L310.1 928.1L314.6 932.9L310.1 937.7Z" fill="#00ffff"/>
<path d="M298.6 976.0L303.1 971.2L307.6 976.0L303.1 980.8Z" fill="#00ffff"/>
<path d="M323.8 976.1L328.3 971.3L332.8 976.1L328.3 980.9Z" fill="#00ffff"/>
<path d="M297.9 1001.2L302.4 996.4L306.9 1001.2L302.4 1006.0Z" fill="#00ffff"/>
<path d="M303.5 1000.0L308.0 995.2L312.5 1000.0L308.0 1004.8Z" fill="#00ffff"/>
<path d="M323.1 1004.2L327.6 999.4L332.1 1004.2L327.6 1009.0Z" fill="#00ffff"/>
<path d="M343.0 886.6L347.5 881.8L352.0 886.6L347.5 891.4Z" fill="#00ffff"/>
<path d="M356.8 886.6L361.3 881.8L365.8 886.6L361.3 891.4Z" fill="#00ffff"/>
<ellipse cx="169.8" cy="971.0" rx="4.3" ry="5.1" fill="#ff0000"/>
<ellipse cx="259.4" cy="886.9" rx="4.3" ry="5.1" fill="#ff0000"/>
<ellipse cx="216.3" cy="921.7" rx="4.3" ry="5.1" fill="#ff0000"/>
<ellipse cx="232.2" cy="957.5" rx="4.3" ry="5.1" fill="#ff0000"/>
<ellipse cx="254.2" cy="928.7" rx="4.3" ry="5.1" fill="#ff0000"/>
<ellipse cx="260.8" cy="925.5" rx="4.3" ry="5.1" fill="#ff0000"/>
<ellipse cx="261.2" cy="939.9" rx="4.3" ry="5.1" fill="#ff0000"/>
<ellipse cx="279.6" cy="948.3" rx="4.3" ry="5.1" fill="#ff0000"/>
<ellipse cx="271.7" cy="957.5" rx="4.3" ry="5.1" fill="#ff0000"/>
<ellipse cx="284.6" cy="958.5" rx="4.3" ry="5.1" fill="#ff0000"/>
<ellipse cx="284.2" cy="962.4" rx="4.3" ry="5.1" fill="#ff0000"/>
<ellipse cx="232.7" cy="988.5" rx="4.3" ry="5.1" fill="#ff0000"/>
<ellipse cx="226.4" cy="998.4" rx="4.3" ry="5.1" fill="#ff0000"/>
<ellipse cx="214.2" cy="1001.7" rx="4.3" ry="5.1" fill="#ff0000"/>
<ellipse cx="192.9" cy="1008.4" rx="4.3" ry="5.1" fill="#ff0000"/>
<ellipse cx="192.5" cy="1014.7" rx="4.3" ry="5.1" fill="#ff0000"/>
<ellipse cx="195.7" cy="1021.8" rx="4.3" ry="5.1" fill="#ff0000"/>
<ellipse cx="214.7" cy="1041.1" rx="4.3" ry="5.1" fill="#ff0000"/>
<ellipse cx="251.4" cy="1000.0" rx="4.3" ry="5.1" fill="#ff0000"/>
<ellipse cx="247.4" cy="1032.5" rx="4.3" ry="5.1" fill="#ff0000"/>
<ellipse cx="332.3" cy="941.3" rx="4.3" ry="5.1" fill="#ff0000"/>
<ellipse cx="295.4" cy="946.2" rx="4.3" ry="5.1" fill="#ff0000"/>
<ellipse cx="311.6" cy="948.0" rx="4.3" ry="5.1" fill="#ff0000"/>
<ellipse cx="338.6" cy="963.8" rx="4.3" ry="5.1" fill="#ff0000"/>
<ellipse cx="357.1" cy="967.5" rx="4.3" ry="5.1" fill="#ff0000"/>
<ellipse cx="296.8" cy="979.3" rx="4.3" ry="5.1" fill="#ff0000"/>
<ellipse cx="328.3" cy="987.4" rx="4.3" ry="5.1" fill="#ff0000"/>
<ellipse cx="296.1" cy="992.3" rx="4.3" ry="5.1" fill="#ff0000"/>
<ellipse cx="337.2" cy="1004.9" rx="4.3" ry="5.1" fill="#ff0000"/>
<ellipse cx="364.8" cy="999.1" rx="4.3" ry="5.1" fill="#ff0000"/>
<ellipse cx="389.8" cy="1005.7" rx="4.3" ry="5.1" fill="#ff0000"/>
<ellipse cx="305.2" cy="1007.5" rx="4.3" ry="5.1" fill="#ff0000"/>
<ellipse cx="297.9" cy="1008.7" rx="4.3" ry="5.1" fill="#ff0000"/>
<ellipse cx="291.2" cy="1012.4" rx="4.3" ry="5.1" fill="#ff0000"/>
<ellipse cx="315.0" cy="1016.2" rx="4.3" ry="5.1" fill="#ff0000"/>
<ellipse cx="326.9" cy="1013.3" rx="4.3" ry="5.1" fill="#ff0000"/>
<ellipse cx="440.2" cy="920.4" rx="4.3" ry="5.1" fill="#ff0000"/>
<ellipse cx="430.1" cy="967.0" rx="4.3" ry="5.1" fill="#ff0000"/>
<path d="M126.8 1066.3L130.6 1062.0L134.4 1066.3L130.6 1070.6Z" fill="#ff8080"/>
<path d="M249.7 1019.0L253.5 1014.7L257.3 1019.0L253.5 1023.3Z" fill="#ff8080"/>
<path d="M263.0 1015.4L266.8 1011.1L270.6 1015.4L266.8 1019.7Z" fill="#ff8080"/>
<path d="M255.6 1069.8L259.4 1065.5L263.2 1069.8L259.4 1074.1Z" fill="#ff8080"/>
<path d="M322.4 1015.4L326.2 1011.1L330.0 1015.4L326.2 1019.7Z" fill="#ff8080"/>
<path d="M137.1 852.0L141.7 841.6L146.3 852.0Z" fill="#0000ff"/>
<path d="M175.8 955.9L180.4 945.5L185.0 955.9Z" fill="#0000ff"/>
<path d="M181.4 1023.2L186.0 1012.8L190.6 1023.2Z" fill="#0000ff"/>
<path d="M268.5 1027.7L273.1 1017.3L277.7 1027.7Z" fill="#0000ff"/>
<path d="M359.9 975.5L364.5 965.1L369.1 975.5Z" fill="#0000ff"/>
<path d="M312.5 1002.7L317.1 992.3L321.7 1002.7Z" fill="#0000ff"/>
<path d="M315.8 1028.4L320.4 1018.0L325.0 1028.4Z" fill="#0000ff"/>
<path d="M200.8 915.2L205.0 910.6L209.2 915.2L205.0 919.8Z" fill="#000080"/>
<path d="M214.6 917.0L218.8 912.4L223.0 917.0L218.8 921.6Z" fill="#000080"/>
<path d="M259.1 940.6L263.3 936.0L267.5 940.6L263.3 945.2Z" fill="#000080"/>
<path d="M261.6 948.3L265.8 943.7L270.0 948.3L265.8 952.9Z" fill="#000080"/>
<path d="M243.0 958.9L247.2 954.3L251.4 958.9L247.2 963.5Z" fill="#000080"/>
<path d="M205.8 1010.5L210.0 1005.9L214.2 1010.5L210.0 1015.1Z" fill="#000080"/>
<path d="M233.9 1024.6L238.1 1020.0L242.3 1024.6L238.1 1029.2Z" fill="#000080"/>
<path d="M351.4 938.8L355.6 934.2L359.8 938.8L355.6 943.4Z" fill="#000080"/>
<path d="M314.8 980.5L319.0 975.9L323.2 980.5L319.0 985.1Z" fill="#000080"/>
<path d="M110.1 1012.5L114.6 1007.6L119.1 1012.5L114.6 1017.4Z" fill="#00ff00"/>
<path d="M298.9 905.0L303.4 900.1L307.9 905.0L303.4 909.9Z" fill="#00ff00"/>
<path d="M216.0 945.5L220.5 940.6L225.0 945.5L220.5 950.4Z" fill="#00ff00"/>
<path d="M264.7 935.7L269.2 930.8L273.7 935.7L269.2 940.6Z" fill="#00ff00"/>
<path d="M248.7 964.7L253.2 959.8L257.7 964.7L253.2 969.6Z" fill="#00ff00"/>
<path d="M329.5 918.8L334.0 913.9L338.5 918.8L334.0 923.7Z" fill="#00ff00"/>
<path d="M344.6 983.9L349.1 979.0L353.6 983.9L349.1 988.8Z" fill="#00ff00"/>
<path d="M324.8 1021.8L329.3 1016.9L333.8 1021.8L329.3 1026.7Z" fill="#00ff00"/>
<path d="M347.9 893.1L352.4 888.2L356.9 893.1L352.4 898.0Z" fill="#00ff00"/>
<path d="M401.6 937.9L406.1 933.0L410.6 937.9L406.1 942.8Z" fill="#00ff00"/>
<path d="M168.0 938.0L171.6 933.7L175.2 938.0L171.6 942.3Z" fill="#e6ffff" stroke="#660066" stroke-width="1.1"/>
<path d="M242.4 887.8L246.0 883.5L249.6 887.8L246.0 892.1Z" fill="#e6ffff" stroke="#660066" stroke-width="1.1"/>
<path d="M208.1 1030.9L211.7 1026.6L215.3 1030.9L211.7 1035.2Z" fill="#e6ffff" stroke="#660066" stroke-width="1.1"/>
<path d="M243.1 992.3L246.7 988.0L250.3 992.3L246.7 996.6Z" fill="#e6ffff" stroke="#660066" stroke-width="1.1"/>
<path d="M265.6 987.4L269.2 983.1L272.8 987.4L269.2 991.7Z" fill="#e6ffff" stroke="#660066" stroke-width="1.1"/>
<path d="M330.4 969.0L334.0 964.7L337.6 969.0L334.0 973.3Z" fill="#e6ffff" stroke="#660066" stroke-width="1.1"/>
<path d="M371.3 880.0L374.9 875.7L378.5 880.0L374.9 884.3Z" fill="#e6ffff" stroke="#660066" stroke-width="1.1"/>
<text transform="translate(40.06,1001.80) scale(0.93,1)" font-size="12.4" letter-spacing="0" stroke="#000" stroke-width="0.25" font-family="Liberation Sans, sans-serif" font-weight="bold">-0.15</text>
<text transform="translate(113.31,1001.80) scale(0.93,1)" font-size="12.4" letter-spacing="0" stroke="#000" stroke-width="0.25" font-family="Liberation Sans, sans-serif" font-weight="bold">-0.10</text>
<text transform="translate(186.56,1001.80) scale(0.93,1)" font-size="12.4" letter-spacing="0" stroke="#000" stroke-width="0.25" font-family="Liberation Sans, sans-serif" font-weight="bold">-0.05</text>
<text transform="translate(261.73,1001.80) scale(0.93,1)" font-size="12.4" letter-spacing="0" stroke="#000" stroke-width="0.25" font-family="Liberation Sans, sans-serif" font-weight="bold">0.00</text>
<text transform="translate(334.98,1001.80) scale(0.93,1)" font-size="12.4" letter-spacing="0" stroke="#000" stroke-width="0.25" font-family="Liberation Sans, sans-serif" font-weight="bold">0.05</text>
<text transform="translate(408.23,1001.80) scale(0.93,1)" font-size="12.4" letter-spacing="0" stroke="#000" stroke-width="0.25" font-family="Liberation Sans, sans-serif" font-weight="bold">0.10</text>
<text transform="translate(481.48,1001.80) scale(0.93,1)" font-size="12.4" letter-spacing="0" stroke="#000" stroke-width="0.25" font-family="Liberation Sans, sans-serif" font-weight="bold">0.15</text>
<text transform="translate(239.76,825.90) scale(0.93,1)" font-size="12.4" letter-spacing="0" stroke="#000" stroke-width="0.25" font-family="Liberation Sans, sans-serif" font-weight="bold">0.20</text>
<text transform="translate(239.76,864.02) scale(0.93,1)" font-size="12.4" letter-spacing="0" stroke="#000" stroke-width="0.25" font-family="Liberation Sans, sans-serif" font-weight="bold">0.15</text>
<text transform="translate(239.76,902.15) scale(0.93,1)" font-size="12.4" letter-spacing="0" stroke="#000" stroke-width="0.25" font-family="Liberation Sans, sans-serif" font-weight="bold">0.10</text>
<text transform="translate(239.76,940.27) scale(0.93,1)" font-size="12.4" letter-spacing="0" stroke="#000" stroke-width="0.25" font-family="Liberation Sans, sans-serif" font-weight="bold">0.05</text>
<text transform="translate(239.76,978.40) scale(0.93,1)" font-size="12.4" letter-spacing="0" stroke="#000" stroke-width="0.25" font-family="Liberation Sans, sans-serif" font-weight="bold">0.00</text>
<text transform="translate(235.92,1016.52) scale(0.93,1)" font-size="12.4" letter-spacing="0" stroke="#000" stroke-width="0.25" font-family="Liberation Sans, sans-serif" font-weight="bold">-0.05</text>
<text transform="translate(235.92,1054.65) scale(0.93,1)" font-size="12.4" letter-spacing="0" stroke="#000" stroke-width="0.25" font-family="Liberation Sans, sans-serif" font-weight="bold">-0.10</text>
<text transform="translate(235.92,1092.78) scale(0.93,1)" font-size="12.4" letter-spacing="0" stroke="#000" stroke-width="0.25" font-family="Liberation Sans, sans-serif" font-weight="bold">-0.15</text>
<text transform="translate(235.92,1130.90) scale(0.93,1)" font-size="12.4" letter-spacing="0" stroke="#000" stroke-width="0.25" font-family="Liberation Sans, sans-serif" font-weight="bold">-0.20</text>
<text x="37.0" y="824.8" font-size="19.5" text-anchor="start" font-family="Liberation Sans, sans-serif" font-weight="bold" stroke="#000" stroke-width="0.3">C</text>
<rect x="610.3" y="118" width="143.4000000000001" height="184.2" fill="#c0c0c0" stroke="#a8a8a8" stroke-width="1"/>
<path d="M619.8 146.7L628.5 140.3L637.2 146.7L628.5 153.1Z" fill="#000080"/>
<text x="644.1" y="147.7" font-size="18.4" text-anchor="start" font-family="Liberation Sans, sans-serif" font-weight="bold"  textLength="102.0" lengthAdjust="spacingAndGlyphs">Other AFR</text>
<rect x="617.3" y="168.7" width="20.4" height="15.6" fill="#ff00ff"/>
<text x="647.6" y="178.4" font-size="18.4" text-anchor="start" font-family="Liberation Sans, sans-serif" font-weight="bold"  textLength="63.4" lengthAdjust="spacingAndGlyphs">MBUTI</text>
<path d="M617.3 217.2L628.7 198.6L640.1 217.2Z" fill="#ffff00"/>
<text x="647.6" y="209.3" font-size="18.4" text-anchor="start" font-family="Liberation Sans, sans-serif" font-weight="bold"  textLength="102.0" lengthAdjust="spacingAndGlyphs">YORUBAN</text>
<rect x="617.3" y="236.0" width="20.4" height="16.0" fill="#00ffff"/>
<text x="647.6" y="245.8" font-size="18.4" text-anchor="start" font-family="Liberation Sans, sans-serif" font-weight="bold"  textLength="97.6" lengthAdjust="spacingAndGlyphs">NILO-SAH</text>
<path d="M617.3 281.0L628.7 272.0L640.1 281.0L628.7 290.0Z" fill="#ff9900"/>
<text x="647.6" y="282.6" font-size="18.4" text-anchor="start" font-family="Liberation Sans, sans-serif" font-weight="bold"  textLength="63.4" lengthAdjust="spacingAndGlyphs">BIAKA</text>
<rect x="610" y="466.3" width="144" height="184.99999999999994" fill="#c0c0c0" stroke="#a8a8a8" stroke-width="1"/>
<path d="M619.1 489.0L624.4 484.0L629.7 489.0L624.4 494.0Z" fill="#000080"/>
<text x="635.5" y="496.4" font-size="18.1" text-anchor="start" font-family="Liberation Sans, sans-serif" font-weight="bold"  textLength="102.8" lengthAdjust="spacingAndGlyphs">Other EUR</text>
<rect x="617.5" y="511.6" width="11.6" height="9.8" fill="#99ccff" stroke="#fff" stroke-width="1.4"/>
<text x="635.5" y="524.2" font-size="18.1" text-anchor="start" font-family="Liberation Sans, sans-serif" font-weight="bold"  textLength="42.7" lengthAdjust="spacingAndGlyphs">BDN</text>
<ellipse cx="623.5" cy="545.0" rx="6.7" ry="5.6" fill="#ff0000"/>
<text x="635.5" y="552.4" font-size="18.1" text-anchor="start" font-family="Liberation Sans, sans-serif" font-weight="bold"  textLength="41.9" lengthAdjust="spacingAndGlyphs">RUS</text>
<path d="M617.5 573.5L623.9 567.9L630.3 573.5L623.9 579.1Z" fill="#ff00ff" stroke="#fff" stroke-width="1.4"/>
<text x="635.0" y="581.0" font-size="18.1" text-anchor="start" font-family="Liberation Sans, sans-serif" font-weight="bold"  textLength="40.0" lengthAdjust="spacingAndGlyphs">AJA</text>
<path d="M617.9 607.7L624.1 596.7L630.3 607.7Z" fill="#ffff99" stroke="#e01010" stroke-width="1.4"/>
<text x="635.5" y="609.0" font-size="18.1" text-anchor="start" font-family="Liberation Sans, sans-serif" font-weight="bold"  textLength="86.1" lengthAdjust="spacingAndGlyphs">BASQUE</text>
<path d="M616.8 636.4L624.2 624.0L631.6 636.4Z" fill="#00ffff"/>
<text x="635.5" y="637.2" font-size="18.1" text-anchor="start" font-family="Liberation Sans, sans-serif" font-weight="bold"  textLength="39.5" lengthAdjust="spacingAndGlyphs">PAL</text>
<rect x="611.5" y="832" width="143.5" height="268.70000000000005" fill="#c0c0c0" stroke="#a8a8a8" stroke-width="1"/>
<rect x="616.9" y="841.6" width="10.6" height="10.4" fill="#ff00ff"/>
<text x="634.6" y="855.3" font-size="18.6" text-anchor="start" font-family="Liberation Sans, sans-serif" font-weight="bold"  textLength="29.9" lengthAdjust="spacingAndGlyphs">FIL</text>
<path d="M616.5 880.1L622.4 868.5L628.3 880.1Z" fill="#ffff00"/>
<text x="631.6" y="882.2" font-size="18.6" text-anchor="start" font-family="Liberation Sans, sans-serif" font-weight="bold"  textLength="69.3" lengthAdjust="spacingAndGlyphs">YAKUT</text>
<path d="M616.7 901.2L622.5 895.0L628.3 901.2L622.5 907.4Z" fill="#ff9900"/>
<text x="631.6" y="909.0" font-size="18.6" text-anchor="start" font-family="Liberation Sans, sans-serif" font-weight="bold"  textLength="60.6" lengthAdjust="spacingAndGlyphs">CAMB</text>
<path d="M616.7 928.3L622.5 922.3L628.3 928.3L622.5 934.3Z" fill="#00ffff"/>
<text x="631.6" y="936.1" font-size="18.6" text-anchor="start" font-family="Liberation Sans, sans-serif" font-weight="bold"  textLength="37.0" lengthAdjust="spacingAndGlyphs">JPT</text>
<ellipse cx="622.2" cy="954.5" rx="5.3" ry="5.2" fill="#ff0000"/>
<text x="631.6" y="963.0" font-size="18.6" text-anchor="start" font-family="Liberation Sans, sans-serif" font-weight="bold"  textLength="43.9" lengthAdjust="spacingAndGlyphs">CHB</text>
<path d="M616.7 982.0L622.5 976.0L628.3 982.0L622.5 988.0Z" fill="#ff8080"/>
<text x="631.6" y="989.8" font-size="18.6" text-anchor="start" font-family="Liberation Sans, sans-serif" font-weight="bold"  textLength="45.2" lengthAdjust="spacingAndGlyphs">VIET</text>
<path d="M616.6 1015.0L622.5 1003.2L628.4 1015.0Z" fill="#0000ff"/>
<text x="631.6" y="1016.9" font-size="18.6" text-anchor="start" font-family="Liberation Sans, sans-serif" font-weight="bold"  textLength="63.0" lengthAdjust="spacingAndGlyphs">MONG</text>
<path d="M616.7 1035.5L622.5 1029.5L628.3 1035.5L622.5 1041.5Z" fill="#000080"/>
<text x="631.6" y="1043.8" font-size="18.6" text-anchor="start" font-family="Liberation Sans, sans-serif" font-weight="bold"  textLength="18.1" lengthAdjust="spacingAndGlyphs">YI</text>
<path d="M616.7 1062.0L622.5 1055.8L628.3 1062.0L622.5 1068.2Z" fill="#00ff00"/>
<text x="631.6" y="1070.6" font-size="18.6" text-anchor="start" font-family="Liberation Sans, sans-serif" font-weight="bold"  textLength="58.4" lengthAdjust="spacingAndGlyphs">DAUR</text>
<path d="M617.1 1090.0L622.5 1084.1L627.9 1090.0L622.5 1095.9Z" fill="#ccffff" stroke="#660066" stroke-width="1.2"/>
<text x="631.6" y="1097.7" font-size="18.6" text-anchor="start" font-family="Liberation Sans, sans-serif" font-weight="bold"  textLength="56.2" lengthAdjust="spacingAndGlyphs">LAHU</text>
</svg>
</body></html>
